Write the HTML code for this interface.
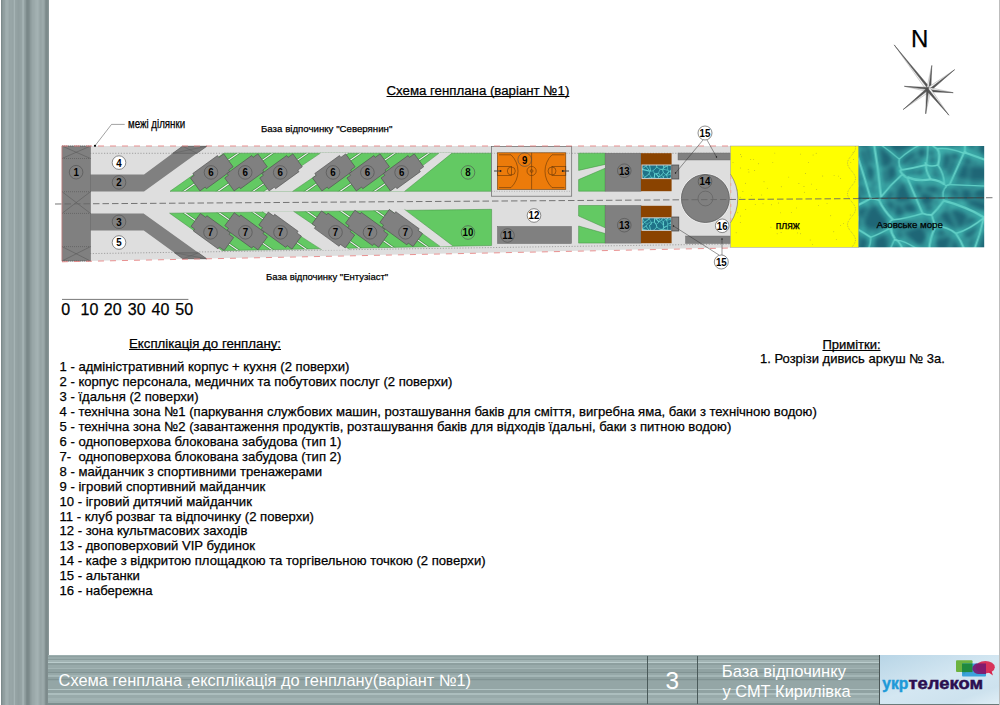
<!DOCTYPE html>
<html><head><meta charset="utf-8">
<style>
html,body{margin:0;padding:0;background:#fff;}
body{width:1000px;height:705px;position:relative;overflow:hidden;font-family:"Liberation Sans",sans-serif;color:#000;}
.abs{position:absolute;white-space:nowrap;line-height:1;}
#band{position:absolute;left:1px;top:0;width:48px;height:705px;background:linear-gradient(to right, rgb(124,138,139) 0px, rgb(124,138,139) 1px, rgb(136,150,151) 1px, rgb(136,150,151) 2px, rgb(144,158,159) 2px, rgb(144,158,159) 3px, rgb(146,160,161) 3px, rgb(146,160,161) 4px, rgb(156,170,171) 4px, rgb(156,170,171) 5px, rgb(160,174,175) 5px, rgb(160,174,175) 6px, rgb(160,174,175) 6px, rgb(160,174,175) 7px, rgb(156,170,171) 7px, rgb(156,170,171) 8px, rgb(150,164,165) 8px, rgb(150,164,165) 9px, rgb(152,166,167) 9px, rgb(152,166,167) 10px, rgb(152,166,167) 10px, rgb(152,166,167) 11px, rgb(150,164,165) 11px, rgb(150,164,165) 12px, rgb(154,168,169) 12px, rgb(154,168,169) 13px, rgb(166,180,181) 13px, rgb(166,180,181) 14px, rgb(150,164,165) 14px, rgb(150,164,165) 15px, rgb(148,162,163) 15px, rgb(148,162,163) 16px, rgb(146,160,161) 16px, rgb(146,160,161) 17px, rgb(144,158,159) 17px, rgb(144,158,159) 18px, rgb(146,160,161) 18px, rgb(146,160,161) 19px, rgb(148,162,163) 19px, rgb(148,162,163) 20px, rgb(150,164,165) 20px, rgb(150,164,165) 21px, rgb(162,176,177) 21px, rgb(162,176,177) 22px, rgb(164,178,179) 22px, rgb(164,178,179) 23px, rgb(148,162,163) 23px, rgb(148,162,163) 24px, rgb(140,154,155) 24px, rgb(140,154,155) 25px, rgb(126,140,141) 25px, rgb(126,140,141) 26px, rgb(122,136,137) 26px, rgb(122,136,137) 27px, rgb(124,138,139) 27px, rgb(124,138,139) 28px, rgb(130,144,145) 28px, rgb(130,144,145) 29px, rgb(140,154,155) 29px, rgb(140,154,155) 30px, rgb(146,160,161) 30px, rgb(146,160,161) 31px, rgb(152,166,167) 31px, rgb(152,166,167) 32px, rgb(154,168,169) 32px, rgb(154,168,169) 33px, rgb(156,170,171) 33px, rgb(156,170,171) 34px, rgb(160,174,175) 34px, rgb(160,174,175) 35px, rgb(162,176,177) 35px, rgb(162,176,177) 36px, rgb(164,178,179) 36px, rgb(164,178,179) 37px, rgb(160,174,175) 37px, rgb(160,174,175) 38px, rgb(154,168,169) 38px, rgb(154,168,169) 39px, rgb(150,164,165) 39px, rgb(150,164,165) 40px, rgb(152,166,167) 40px, rgb(152,166,167) 41px, rgb(156,170,171) 41px, rgb(156,170,171) 42px, rgb(154,168,169) 42px, rgb(154,168,169) 43px, rgb(146,160,161) 43px, rgb(146,160,161) 44px, rgb(130,144,145) 44px, rgb(130,144,145) 45px, rgb(124,138,139) 45px, rgb(124,138,139) 46px, rgb(126,140,141) 46px, rgb(126,140,141) 47px, rgb(136,150,151) 47px, rgb(136,150,151) 48px);}
#foot{position:absolute;left:48px;top:655px;width:832px;height:50px;background:linear-gradient(to bottom, rgb(157,175,175) 0px, rgb(157,175,175) 1px, rgb(142,160,160) 1px, rgb(142,160,160) 2px, rgb(153,171,171) 2px, rgb(153,171,171) 3px, rgb(153,171,171) 3px, rgb(153,171,171) 4px, rgb(138,156,156) 4px, rgb(138,156,156) 5px, rgb(162,180,180) 5px, rgb(162,180,180) 6px, rgb(162,180,180) 6px, rgb(162,180,180) 7px, rgb(186,204,204) 7px, rgb(186,204,204) 8px, rgb(141,159,159) 8px, rgb(141,159,159) 9px, rgb(141,159,159) 9px, rgb(141,159,159) 10px, rgb(152,170,170) 10px, rgb(152,170,170) 11px, rgb(152,170,170) 11px, rgb(152,170,170) 12px, rgb(152,170,170) 12px, rgb(152,170,170) 13px, rgb(163,181,181) 13px, rgb(163,181,181) 14px, rgb(144,162,162) 14px, rgb(144,162,162) 15px, rgb(144,162,162) 15px, rgb(144,162,162) 16px, rgb(144,162,162) 16px, rgb(144,162,162) 17px, rgb(129,147,147) 17px, rgb(129,147,147) 18px, rgb(150,168,168) 18px, rgb(150,168,168) 19px, rgb(150,168,168) 19px, rgb(150,168,168) 20px, rgb(164,182,182) 20px, rgb(164,182,182) 21px, rgb(164,182,182) 21px, rgb(164,182,182) 22px, rgb(143,161,161) 22px, rgb(143,161,161) 23px, rgb(143,161,161) 23px, rgb(143,161,161) 24px, rgb(129,147,147) 24px, rgb(129,147,147) 25px, rgb(143,161,161) 25px, rgb(143,161,161) 26px, rgb(148,166,166) 26px, rgb(148,166,166) 27px, rgb(148,166,166) 27px, rgb(148,166,166) 28px, rgb(148,166,166) 28px, rgb(148,166,166) 29px, rgb(148,166,166) 29px, rgb(148,166,166) 30px, rgb(148,166,166) 30px, rgb(148,166,166) 31px, rgb(148,166,166) 31px, rgb(148,166,166) 32px, rgb(148,166,166) 32px, rgb(148,166,166) 33px, rgb(148,166,166) 33px, rgb(148,166,166) 34px, rgb(178,196,196) 34px, rgb(178,196,196) 35px, rgb(144,162,162) 35px, rgb(144,162,162) 36px, rgb(144,162,162) 36px, rgb(144,162,162) 37px, rgb(144,162,162) 37px, rgb(144,162,162) 38px, rgb(172,190,190) 38px, rgb(172,190,190) 39px, rgb(172,190,190) 39px, rgb(172,190,190) 40px, rgb(152,170,170) 40px, rgb(152,170,170) 41px, rgb(152,170,170) 41px, rgb(152,170,170) 42px, rgb(152,170,170) 42px, rgb(152,170,170) 43px, rgb(160,178,178) 43px, rgb(160,178,178) 44px, rgb(160,178,178) 44px, rgb(160,178,178) 45px, rgb(160,178,178) 45px, rgb(160,178,178) 46px, rgb(155,173,173) 46px, rgb(155,173,173) 47px, rgb(155,173,173) 47px, rgb(155,173,173) 48px, rgb(125,143,143) 48px, rgb(125,143,143) 49px, rgb(125,143,143) 49px, rgb(125,143,143) 50px);}
#logo{position:absolute;left:879px;top:655px;width:120px;height:50px;background:linear-gradient(160deg,#b8d5e6 0%,#d4e7f2 50%,#cde2ee 80%,#e0eef6 100%);border-left:1px solid #4a5656;border-bottom:1px solid #6a7a7a;box-sizing:border-box;}
.ft{color:#fff;font-size:16px;-webkit-text-stroke:0 !important;}
svg{position:absolute;left:0;top:0;}
.u{text-decoration:underline;text-decoration-skip-ink:none;text-underline-offset:1.3px;text-decoration-thickness:1px;}
.li{font-size:13.1px;left:59.5px;}
.abs{-webkit-text-stroke:0.25px currentColor;}
</style></head><body>
<div id="band"></div>
<div style="position:absolute;left:999px;top:0;width:1px;height:705px;background:#bdbdbd"></div>
<svg width="1000" height="705" viewBox="0 0 1000 705">
<defs>
<filter id="blur1" x="-10%" y="-10%" width="120%" height="120%"><feGaussianBlur stdDeviation="2"/></filter><filter id="blur3" x="-10%" y="-10%" width="120%" height="120%"><feGaussianBlur stdDeviation="0.3"/></filter><filter id="blur2" x="-10%" y="-10%" width="120%" height="120%"><feGaussianBlur stdDeviation="0.45"/></filter>
<pattern id="sea" patternUnits="userSpaceOnUse" x="858.6" y="146" width="126" height="102">
<rect width="126" height="102" fill="#1f6676"/>
<g filter="url(#blur1)" stroke-opacity="0.7">
<path d="M-1.81 107.48 Q-20.41 88.03 -41.96 69.16" fill="none" stroke="#3ab2ae" stroke-width="5.83"/>
<path d="M-16.44 -33.19 Q-1.14 6.49 11.91 52.45" fill="none" stroke="#3ab2ae" stroke-width="8.65"/>
<path d="M14.65 -6.23 Q19.61 21.42 22.4 51.04" fill="none" stroke="#3ab2ae" stroke-width="9.29"/>
<path d="M11.91 52.45 Q13.64 52.29 20.26 53.88" fill="none" stroke="#3ab2ae" stroke-width="9.29"/>
<path d="M20.26 53.88 Q20.37 54.17 22.4 51.04" fill="none" stroke="#3ab2ae" stroke-width="8.18"/>
<path d="M-32.84 68.42 Q-6.94 64.37 11.91 52.45" fill="none" stroke="#3ab2ae" stroke-width="8.84"/>
<path d="M109.96 117.74 Q106.11 99.85 97.32 87.5" fill="none" stroke="#3ab2ae" stroke-width="8.78"/>
<path d="M109.96 117.74 Q120.34 94 125.17 71.84" fill="none" stroke="#3ab2ae" stroke-width="7.82"/>
<path d="M125.17 71.84 Q111.08 83.34 97.32 87.5" fill="none" stroke="#3ab2ae" stroke-width="6.4"/>
<path d="M207.84 43.18 Q165.93 53.29 125.58 71.38" fill="none" stroke="#3ab2ae" stroke-width="7.02"/>
<path d="M125.58 71.38 Q126.43 75.09 125.17 71.84" fill="none" stroke="#3ab2ae" stroke-width="10.04"/>
<path d="M123.06 248.56 Q95.53 179.98 70.77 103.57" fill="none" stroke="#3ab2ae" stroke-width="5.63"/>
<path d="M97.32 87.5 Q89.72 80.94 76.96 79.85" fill="none" stroke="#3ab2ae" stroke-width="6.93"/>
<path d="M76.96 79.85 Q70.45 94.58 70.77 103.57" fill="none" stroke="#3ab2ae" stroke-width="9.47"/>
<path d="M46.85 114.69 Q49.5 108.76 57.91 102.39" fill="none" stroke="#3ab2ae" stroke-width="6.05"/>
<path d="M70.77 103.57 Q64.27 103.41 57.91 102.39" fill="none" stroke="#3ab2ae" stroke-width="5.14"/>
<path d="M46.85 114.69 Q45.79 102.76 38.9 94.37" fill="none" stroke="#3ab2ae" stroke-width="7.18"/>
<path d="M57.91 102.39 Q44.87 94.4 38.9 94.37" fill="none" stroke="#3ab2ae" stroke-width="5.67"/>
<path d="M48.34 31.17 Q58.92 35.71 72.03 33.39" fill="none" stroke="#3ab2ae" stroke-width="9.84"/>
<path d="M48.34 31.17 Q55.97 48.92 63.9 67.38" fill="none" stroke="#3ab2ae" stroke-width="8.5"/>
<path d="M72.03 33.39 Q81.75 34.65 85.72 38.51" fill="none" stroke="#3ab2ae" stroke-width="9.26"/>
<path d="M63.9 67.38 Q67.67 68.95 73.06 69.02" fill="none" stroke="#3ab2ae" stroke-width="8.92"/>
<path d="M73.06 69.02 Q79.12 63.38 85.16 54.69" fill="none" stroke="#3ab2ae" stroke-width="8.68"/>
<path d="M85.16 54.69 Q82.64 43.91 88.02 40.51" fill="none" stroke="#3ab2ae" stroke-width="5.39"/>
<path d="M88.02 40.51 Q84.58 37.13 85.72 38.51" fill="none" stroke="#3ab2ae" stroke-width="4.79"/>
<path d="M20.26 53.88 Q25.1 64.63 34.47 73.77" fill="none" stroke="#3ab2ae" stroke-width="9.82"/>
<path d="M22.4 51.04 Q31.94 38.47 43.88 28.05" fill="none" stroke="#3ab2ae" stroke-width="7"/>
<path d="M43.88 28.05 Q47.56 31.89 48.34 31.17" fill="none" stroke="#3ab2ae" stroke-width="10.15"/>
<path d="M34.47 73.77 Q48.19 72.23 63.9 67.38" fill="none" stroke="#3ab2ae" stroke-width="6.55"/>
<path d="M125.58 71.38 Q107.97 60.88 85.16 54.69" fill="none" stroke="#3ab2ae" stroke-width="9.73"/>
<path d="M76.96 79.85 Q75.05 76.24 73.06 69.02" fill="none" stroke="#3ab2ae" stroke-width="7.71"/>
<path d="M207.84 43.18 Q147.95 40.84 91 38.6" fill="none" stroke="#3ab2ae" stroke-width="4.8"/>
<path d="M91 38.6 Q85.85 39.79 88.02 40.51" fill="none" stroke="#3ab2ae" stroke-width="7.36"/>
<path d="M107.61 -6.83 Q109.64 -8.63 106.34 -2.74" fill="none" stroke="#3ab2ae" stroke-width="7.84"/>
<path d="M210.82 42.58 Q158.44 25.36 106.2 6.58" fill="none" stroke="#3ab2ae" stroke-width="8.88"/>
<path d="M106.2 6.58 Q106.47 2.43 106.34 -2.74" fill="none" stroke="#3ab2ae" stroke-width="7.45"/>
<path d="M91 38.6 Q99 20.89 105.15 7.22" fill="none" stroke="#3ab2ae" stroke-width="7.82"/>
<path d="M106.2 6.58 Q107.05 4.43 105.15 7.22" fill="none" stroke="#3ab2ae" stroke-width="10.44"/>
<path d="M106.34 -2.74 Q90.37 -10.06 70.46 -24.66" fill="none" stroke="#3ab2ae" stroke-width="6.26"/>
<path d="M14.65 -6.23 Q27.19 1.53 40.63 13.11" fill="none" stroke="#3ab2ae" stroke-width="4.78"/>
<path d="M43.88 28.05 Q39.81 23.98 43.46 23.97" fill="none" stroke="#3ab2ae" stroke-width="9.67"/>
<path d="M40.63 13.11 Q39.35 20.06 43.46 23.97" fill="none" stroke="#3ab2ae" stroke-width="6"/>
<path d="M72.03 33.39 Q66.36 23.65 67.64 18.82" fill="none" stroke="#3ab2ae" stroke-width="8.57"/>
<path d="M43.46 23.97 Q55.57 21.79 67.64 18.82" fill="none" stroke="#3ab2ae" stroke-width="7.22"/>
<path d="M32.18 81.83 Q32.37 87.15 36.18 92.66" fill="none" stroke="#3ab2ae" stroke-width="10.03"/>
<path d="M32.18 81.83 Q19.71 88.43 12.01 91.3" fill="none" stroke="#3ab2ae" stroke-width="6.01"/>
<path d="M36.18 92.66 Q25.99 114.37 20.71 138.89" fill="none" stroke="#3ab2ae" stroke-width="5.06"/>
<path d="M12.01 91.3 Q12.7 99.48 6.42 109.81" fill="none" stroke="#3ab2ae" stroke-width="5.56"/>
<path d="M34.47 73.77 Q29.32 74.28 32.18 81.83" fill="none" stroke="#3ab2ae" stroke-width="5.79"/>
<path d="M38.9 94.37 Q36.88 94.33 36.18 92.66" fill="none" stroke="#3ab2ae" stroke-width="10.39"/>
<path d="M-32.84 68.42 Q-7.29 77.8 12.01 91.3" fill="none" stroke="#3ab2ae" stroke-width="8.17"/>
<path d="M79.39 18.93 Q82.37 7.69 78.6 2.82" fill="none" stroke="#3ab2ae" stroke-width="9.62"/>
<path d="M79.39 18.93 Q72.73 21.06 67.73 18.68" fill="none" stroke="#3ab2ae" stroke-width="6.44"/>
<path d="M67.73 18.68 Q69.5 7.27 69.26 -4.24" fill="none" stroke="#3ab2ae" stroke-width="5.13"/>
<path d="M78.6 2.82 Q76.11 1.78 69.47 -4.43" fill="none" stroke="#3ab2ae" stroke-width="7.4"/>
<path d="M69.47 -4.43 Q68.47 -0.76 69.26 -4.24" fill="none" stroke="#3ab2ae" stroke-width="6.75"/>
<path d="M85.72 38.51 Q85.59 28.07 79.39 18.93" fill="none" stroke="#3ab2ae" stroke-width="6.74"/>
<path d="M105.15 7.22 Q90.76 1.5 78.6 2.82" fill="none" stroke="#3ab2ae" stroke-width="6.16"/>
<path d="M67.64 18.82 Q65.52 15.25 67.73 18.68" fill="none" stroke="#3ab2ae" stroke-width="7.75"/>
<path d="M40.63 13.11 Q54.48 0.63 69.26 -4.24" fill="none" stroke="#3ab2ae" stroke-width="5.44"/>
<path d="M70.46 -24.66 Q73.31 -17.47 69.47 -4.43" fill="none" stroke="#3ab2ae" stroke-width="6.74"/>
</g>
<g filter="url(#blur2)" stroke-opacity="0.9">
<path d="M-1.81 107.48 Q-20.41 88.03 -41.96 69.16" fill="none" stroke="#6ad6cc" stroke-width="1.4"/>
<path d="M-16.44 -33.19 Q-1.14 6.49 11.91 52.45" fill="none" stroke="#6ad6cc" stroke-width="2.08"/>
<path d="M14.65 -6.23 Q19.61 21.42 22.4 51.04" fill="none" stroke="#6ad6cc" stroke-width="2.23"/>
<path d="M11.91 52.45 Q13.64 52.29 20.26 53.88" fill="none" stroke="#6ad6cc" stroke-width="2.23"/>
<path d="M20.26 53.88 Q20.37 54.17 22.4 51.04" fill="none" stroke="#6ad6cc" stroke-width="1.96"/>
<path d="M-32.84 68.42 Q-6.94 64.37 11.91 52.45" fill="none" stroke="#6ad6cc" stroke-width="2.12"/>
<path d="M109.96 117.74 Q106.11 99.85 97.32 87.5" fill="none" stroke="#6ad6cc" stroke-width="2.11"/>
<path d="M109.96 117.74 Q120.34 94 125.17 71.84" fill="none" stroke="#6ad6cc" stroke-width="1.88"/>
<path d="M125.17 71.84 Q111.08 83.34 97.32 87.5" fill="none" stroke="#6ad6cc" stroke-width="1.54"/>
<path d="M207.84 43.18 Q165.93 53.29 125.58 71.38" fill="none" stroke="#6ad6cc" stroke-width="1.69"/>
<path d="M125.58 71.38 Q126.43 75.09 125.17 71.84" fill="none" stroke="#6ad6cc" stroke-width="2.41"/>
<path d="M123.06 248.56 Q95.53 179.98 70.77 103.57" fill="none" stroke="#6ad6cc" stroke-width="1.35"/>
<path d="M97.32 87.5 Q89.72 80.94 76.96 79.85" fill="none" stroke="#6ad6cc" stroke-width="1.66"/>
<path d="M76.96 79.85 Q70.45 94.58 70.77 103.57" fill="none" stroke="#6ad6cc" stroke-width="2.27"/>
<path d="M46.85 114.69 Q49.5 108.76 57.91 102.39" fill="none" stroke="#6ad6cc" stroke-width="1.45"/>
<path d="M70.77 103.57 Q64.27 103.41 57.91 102.39" fill="none" stroke="#6ad6cc" stroke-width="1.23"/>
<path d="M46.85 114.69 Q45.79 102.76 38.9 94.37" fill="none" stroke="#6ad6cc" stroke-width="1.72"/>
<path d="M57.91 102.39 Q44.87 94.4 38.9 94.37" fill="none" stroke="#6ad6cc" stroke-width="1.36"/>
<path d="M48.34 31.17 Q58.92 35.71 72.03 33.39" fill="none" stroke="#6ad6cc" stroke-width="2.36"/>
<path d="M48.34 31.17 Q55.97 48.92 63.9 67.38" fill="none" stroke="#6ad6cc" stroke-width="2.04"/>
<path d="M72.03 33.39 Q81.75 34.65 85.72 38.51" fill="none" stroke="#6ad6cc" stroke-width="2.22"/>
<path d="M63.9 67.38 Q67.67 68.95 73.06 69.02" fill="none" stroke="#6ad6cc" stroke-width="2.14"/>
<path d="M73.06 69.02 Q79.12 63.38 85.16 54.69" fill="none" stroke="#6ad6cc" stroke-width="2.08"/>
<path d="M85.16 54.69 Q82.64 43.91 88.02 40.51" fill="none" stroke="#6ad6cc" stroke-width="1.29"/>
<path d="M88.02 40.51 Q84.58 37.13 85.72 38.51" fill="none" stroke="#6ad6cc" stroke-width="1.15"/>
<path d="M20.26 53.88 Q25.1 64.63 34.47 73.77" fill="none" stroke="#6ad6cc" stroke-width="2.36"/>
<path d="M22.4 51.04 Q31.94 38.47 43.88 28.05" fill="none" stroke="#6ad6cc" stroke-width="1.68"/>
<path d="M43.88 28.05 Q47.56 31.89 48.34 31.17" fill="none" stroke="#6ad6cc" stroke-width="2.43"/>
<path d="M34.47 73.77 Q48.19 72.23 63.9 67.38" fill="none" stroke="#6ad6cc" stroke-width="1.57"/>
<path d="M125.58 71.38 Q107.97 60.88 85.16 54.69" fill="none" stroke="#6ad6cc" stroke-width="2.33"/>
<path d="M76.96 79.85 Q75.05 76.24 73.06 69.02" fill="none" stroke="#6ad6cc" stroke-width="1.85"/>
<path d="M207.84 43.18 Q147.95 40.84 91 38.6" fill="none" stroke="#6ad6cc" stroke-width="1.15"/>
<path d="M91 38.6 Q85.85 39.79 88.02 40.51" fill="none" stroke="#6ad6cc" stroke-width="1.77"/>
<path d="M107.61 -6.83 Q109.64 -8.63 106.34 -2.74" fill="none" stroke="#6ad6cc" stroke-width="1.88"/>
<path d="M210.82 42.58 Q158.44 25.36 106.2 6.58" fill="none" stroke="#6ad6cc" stroke-width="2.13"/>
<path d="M106.2 6.58 Q106.47 2.43 106.34 -2.74" fill="none" stroke="#6ad6cc" stroke-width="1.79"/>
<path d="M91 38.6 Q99 20.89 105.15 7.22" fill="none" stroke="#6ad6cc" stroke-width="1.88"/>
<path d="M106.2 6.58 Q107.05 4.43 105.15 7.22" fill="none" stroke="#6ad6cc" stroke-width="2.51"/>
<path d="M106.34 -2.74 Q90.37 -10.06 70.46 -24.66" fill="none" stroke="#6ad6cc" stroke-width="1.5"/>
<path d="M14.65 -6.23 Q27.19 1.53 40.63 13.11" fill="none" stroke="#6ad6cc" stroke-width="1.15"/>
<path d="M43.88 28.05 Q39.81 23.98 43.46 23.97" fill="none" stroke="#6ad6cc" stroke-width="2.32"/>
<path d="M40.63 13.11 Q39.35 20.06 43.46 23.97" fill="none" stroke="#6ad6cc" stroke-width="1.44"/>
<path d="M72.03 33.39 Q66.36 23.65 67.64 18.82" fill="none" stroke="#6ad6cc" stroke-width="2.06"/>
<path d="M43.46 23.97 Q55.57 21.79 67.64 18.82" fill="none" stroke="#6ad6cc" stroke-width="1.73"/>
<path d="M32.18 81.83 Q32.37 87.15 36.18 92.66" fill="none" stroke="#6ad6cc" stroke-width="2.41"/>
<path d="M32.18 81.83 Q19.71 88.43 12.01 91.3" fill="none" stroke="#6ad6cc" stroke-width="1.44"/>
<path d="M36.18 92.66 Q25.99 114.37 20.71 138.89" fill="none" stroke="#6ad6cc" stroke-width="1.21"/>
<path d="M12.01 91.3 Q12.7 99.48 6.42 109.81" fill="none" stroke="#6ad6cc" stroke-width="1.33"/>
<path d="M34.47 73.77 Q29.32 74.28 32.18 81.83" fill="none" stroke="#6ad6cc" stroke-width="1.39"/>
<path d="M38.9 94.37 Q36.88 94.33 36.18 92.66" fill="none" stroke="#6ad6cc" stroke-width="2.49"/>
<path d="M-32.84 68.42 Q-7.29 77.8 12.01 91.3" fill="none" stroke="#6ad6cc" stroke-width="1.96"/>
<path d="M79.39 18.93 Q82.37 7.69 78.6 2.82" fill="none" stroke="#6ad6cc" stroke-width="2.31"/>
<path d="M79.39 18.93 Q72.73 21.06 67.73 18.68" fill="none" stroke="#6ad6cc" stroke-width="1.54"/>
<path d="M67.73 18.68 Q69.5 7.27 69.26 -4.24" fill="none" stroke="#6ad6cc" stroke-width="1.23"/>
<path d="M78.6 2.82 Q76.11 1.78 69.47 -4.43" fill="none" stroke="#6ad6cc" stroke-width="1.78"/>
<path d="M69.47 -4.43 Q68.47 -0.76 69.26 -4.24" fill="none" stroke="#6ad6cc" stroke-width="1.62"/>
<path d="M85.72 38.51 Q85.59 28.07 79.39 18.93" fill="none" stroke="#6ad6cc" stroke-width="1.62"/>
<path d="M105.15 7.22 Q90.76 1.5 78.6 2.82" fill="none" stroke="#6ad6cc" stroke-width="1.48"/>
<path d="M67.64 18.82 Q65.52 15.25 67.73 18.68" fill="none" stroke="#6ad6cc" stroke-width="1.86"/>
<path d="M40.63 13.11 Q54.48 0.63 69.26 -4.24" fill="none" stroke="#6ad6cc" stroke-width="1.3"/>
<path d="M70.46 -24.66 Q73.31 -17.47 69.47 -4.43" fill="none" stroke="#6ad6cc" stroke-width="1.62"/>
</g>
<g filter="url(#blur1)" stroke-opacity="0.5">
<path d="M91.21 293.23 Q100.89 191.91 109.48 94.57" fill="none" stroke="#4cc2ba" stroke-width="3.34"/>
<path d="M-24.41 16.13 Q-14.52 13.67 -4.58 8.88" fill="none" stroke="#4cc2ba" stroke-width="2.66"/>
<path d="M-7.98 20.74 Q-5.51 14.27 -4.58 8.88" fill="none" stroke="#4cc2ba" stroke-width="3.2"/>
<path d="M10.16 60.93 Q6.55 68.18 3.32 77.75" fill="none" stroke="#4cc2ba" stroke-width="2.57"/>
<path d="M10.16 60.93 Q2.04 50 -2.6 38.08" fill="none" stroke="#4cc2ba" stroke-width="3.94"/>
<path d="M3.32 77.75 Q-5.74 58.82 -15.56 42.53" fill="none" stroke="#4cc2ba" stroke-width="3.09"/>
<path d="M-2.6 38.08 Q-10.04 39.84 -15.56 42.53" fill="none" stroke="#4cc2ba" stroke-width="1.81"/>
<path d="M109.48 94.57 Q111.25 94.53 109.34 94.3" fill="none" stroke="#4cc2ba" stroke-width="3.17"/>
<path d="M159.72 62.16 Q132.91 76.76 109.34 94.3" fill="none" stroke="#4cc2ba" stroke-width="3.92"/>
<path d="M18.97 127.28 Q27.92 117.72 34.09 106.78" fill="none" stroke="#4cc2ba" stroke-width="3.47"/>
<path d="M14.27 117.44 Q15.51 101.6 13.3 84.35" fill="none" stroke="#4cc2ba" stroke-width="3.24"/>
<path d="M13.3 84.35 Q18.66 83.39 26.83 84.61" fill="none" stroke="#4cc2ba" stroke-width="2.33"/>
<path d="M34.09 106.78 Q28.64 95.35 26.83 84.61" fill="none" stroke="#4cc2ba" stroke-width="1.91"/>
<path d="M34.09 106.78 Q39.79 107.62 42.23 107.49" fill="none" stroke="#4cc2ba" stroke-width="2.6"/>
<path d="M55.73 112.92 Q56.31 108.72 58.78 102.63" fill="none" stroke="#4cc2ba" stroke-width="3.96"/>
<path d="M42.23 107.49 Q45.56 96.53 44.92 88.9" fill="none" stroke="#4cc2ba" stroke-width="2.87"/>
<path d="M58.78 102.63 Q53.74 96.11 44.92 88.9" fill="none" stroke="#4cc2ba" stroke-width="3.72"/>
<path d="M3.24 78.28 Q3.9 80.8 5.48 80.32" fill="none" stroke="#4cc2ba" stroke-width="4.12"/>
<path d="M5.48 80.32 Q-0.19 93.67 -4 108.35" fill="none" stroke="#4cc2ba" stroke-width="2.8"/>
<path d="M3.32 77.75 Q5.13 76.29 3.24 78.28" fill="none" stroke="#4cc2ba" stroke-width="3.26"/>
<path d="M13.3 84.35 Q9.69 83.4 5.48 80.32" fill="none" stroke="#4cc2ba" stroke-width="1.99"/>
<path d="M1.76 0.64 Q-2.78 5.92 -4.58 8.88" fill="none" stroke="#4cc2ba" stroke-width="4.07"/>
<path d="M109.34 94.3 Q105.34 91.31 101.02 88.2" fill="none" stroke="#4cc2ba" stroke-width="3.5"/>
<path d="M101.27 86.79 Q99.94 88.8 101.02 88.2" fill="none" stroke="#4cc2ba" stroke-width="1.86"/>
<path d="M101.27 86.79 Q105.97 80.27 109.65 71.02" fill="none" stroke="#4cc2ba" stroke-width="2.11"/>
<path d="M147.48 61.93 Q128.01 65.57 109.65 71.02" fill="none" stroke="#4cc2ba" stroke-width="3.66"/>
<path d="M26.83 84.61 Q26.72 83.64 29.18 83.48" fill="none" stroke="#4cc2ba" stroke-width="3.2"/>
<path d="M44.92 88.9 Q42.09 86.78 42.94 85.65" fill="none" stroke="#4cc2ba" stroke-width="2.22"/>
<path d="M29.18 83.48 Q33.31 82.59 39.29 84.34" fill="none" stroke="#4cc2ba" stroke-width="2.74"/>
<path d="M42.94 85.65 Q39.28 83.98 39.29 84.34" fill="none" stroke="#4cc2ba" stroke-width="2.32"/>
<path d="M29.18 83.48 Q33.95 70.77 37.29 56.56" fill="none" stroke="#4cc2ba" stroke-width="2.78"/>
<path d="M47.68 68.25 Q45.54 70.36 46.54 72.25" fill="none" stroke="#4cc2ba" stroke-width="3.05"/>
<path d="M47.68 68.25 Q44.78 62.41 41.74 57.52" fill="none" stroke="#4cc2ba" stroke-width="2.45"/>
<path d="M39.29 84.34 Q40.99 76.81 46.54 72.25" fill="none" stroke="#4cc2ba" stroke-width="2.14"/>
<path d="M37.29 56.56 Q38.75 56.13 41.74 57.52" fill="none" stroke="#4cc2ba" stroke-width="2.83"/>
<path d="M10.16 60.93 Q16.05 59.33 19.02 54.37" fill="none" stroke="#4cc2ba" stroke-width="2.74"/>
<path d="M19.02 54.37 Q27.15 55.56 34.76 53.25" fill="none" stroke="#4cc2ba" stroke-width="3.42"/>
<path d="M37.29 56.56 Q34.22 54.6 34.76 53.25" fill="none" stroke="#4cc2ba" stroke-width="3.65"/>
<path d="M62.6 60.58 Q60.24 59.75 58.71 55.42" fill="none" stroke="#4cc2ba" stroke-width="2.33"/>
<path d="M62.6 60.58 Q63.78 66.83 62.74 71.73" fill="none" stroke="#4cc2ba" stroke-width="3.4"/>
<path d="M58.71 55.42 Q56.76 54.47 56.19 55.05" fill="none" stroke="#4cc2ba" stroke-width="2.83"/>
<path d="M47.68 68.25 Q55.97 69.47 62.74 71.73" fill="none" stroke="#4cc2ba" stroke-width="4.1"/>
<path d="M56.19 55.05 Q49.34 56.04 41.74 57.52" fill="none" stroke="#4cc2ba" stroke-width="3.32"/>
<path d="M101.02 88.2 Q96.28 89.78 94.5 89.74" fill="none" stroke="#4cc2ba" stroke-width="2.16"/>
<path d="M82.51 129.39 Q89.78 107.78 94.5 89.74" fill="none" stroke="#4cc2ba" stroke-width="3.41"/>
<path d="M106.19 -5.4 Q101.48 -2.21 94.72 3.37" fill="none" stroke="#4cc2ba" stroke-width="2.09"/>
<path d="M106.19 -5.4 Q113.46 -4.79 118.66 -2.49" fill="none" stroke="#4cc2ba" stroke-width="3.01"/>
<path d="M94.72 3.37 Q103.81 2.64 114.24 4.61" fill="none" stroke="#4cc2ba" stroke-width="4.08"/>
<path d="M114.24 4.61 Q115.45 1.78 118.16 -0.86" fill="none" stroke="#4cc2ba" stroke-width="2.68"/>
<path d="M118.66 -2.49 Q119.69 -0.43 118.16 -0.86" fill="none" stroke="#4cc2ba" stroke-width="3.88"/>
<path d="M93.02 13.42 Q101.04 16.8 110.75 19.17" fill="none" stroke="#4cc2ba" stroke-width="1.83"/>
<path d="M93.02 13.42 Q91.11 9.62 90.98 5.66" fill="none" stroke="#4cc2ba" stroke-width="2.6"/>
<path d="M90.98 5.66 Q94.8 5.15 94.72 3.37" fill="none" stroke="#4cc2ba" stroke-width="4.01"/>
<path d="M114.15 18.53 Q111.33 19.39 110.75 19.17" fill="none" stroke="#4cc2ba" stroke-width="2.71"/>
<path d="M114.15 18.53 Q114.88 12.55 114.24 4.61" fill="none" stroke="#4cc2ba" stroke-width="3.53"/>
<path d="M114.15 18.53 Q116.63 20.12 120.9 18.69" fill="none" stroke="#4cc2ba" stroke-width="2.71"/>
<path d="M120.9 18.69 Q119.86 10.69 118.16 -0.86" fill="none" stroke="#4cc2ba" stroke-width="3.69"/>
<path d="M120.9 18.69 Q141.08 24.21 163.86 27.36" fill="none" stroke="#4cc2ba" stroke-width="2.54"/>
<path d="M90.98 5.66 Q90 4.92 90.47 5.19" fill="none" stroke="#4cc2ba" stroke-width="2.81"/>
<path d="M90.47 5.19 Q91.2 4.28 88.82 2.56" fill="none" stroke="#4cc2ba" stroke-width="2.58"/>
<path d="M82.55 -16.16 Q84.72 -5.22 88.82 2.56" fill="none" stroke="#4cc2ba" stroke-width="1.89"/>
<path d="M1.76 0.64 Q2.4 3.33 6.07 2.53" fill="none" stroke="#4cc2ba" stroke-width="3.48"/>
<path d="M-7.82 21.06 Q-3.47 25.88 -0.65 30.15" fill="none" stroke="#4cc2ba" stroke-width="2"/>
<path d="M6.07 2.53 Q7.74 9.65 10.49 17.91" fill="none" stroke="#4cc2ba" stroke-width="2.78"/>
<path d="M10.49 17.91 Q4.66 24.87 -0.65 30.15" fill="none" stroke="#4cc2ba" stroke-width="1.8"/>
<path d="M-2.6 38.08 Q-1.9 38.59 -1.91 37.29" fill="none" stroke="#4cc2ba" stroke-width="3.57"/>
<path d="M19.02 54.37 Q16.01 46.84 16.42 42.35" fill="none" stroke="#4cc2ba" stroke-width="2.1"/>
<path d="M16.42 42.35 Q13.13 39.38 10.97 38.11" fill="none" stroke="#4cc2ba" stroke-width="2.55"/>
<path d="M10.97 38.11 Q3.63 36.64 -1.91 37.29" fill="none" stroke="#4cc2ba" stroke-width="3.2"/>
<path d="M-1.91 37.29 Q-1.91 33.29 -0.65 30.15" fill="none" stroke="#4cc2ba" stroke-width="2.71"/>
<path d="M89.87 88.99 Q82.84 90.76 73.64 92" fill="none" stroke="#4cc2ba" stroke-width="3.32"/>
<path d="M89.87 88.99 Q85.51 78.46 80.17 69.81" fill="none" stroke="#4cc2ba" stroke-width="3.18"/>
<path d="M80.17 69.81 Q73.22 72.21 63.81 75.34" fill="none" stroke="#4cc2ba" stroke-width="2.61"/>
<path d="M71.04 91.44 Q67 83.79 63.38 78.01" fill="none" stroke="#4cc2ba" stroke-width="3.63"/>
<path d="M71.04 91.44 Q73.08 93.45 73.64 92" fill="none" stroke="#4cc2ba" stroke-width="2.48"/>
<path d="M63.81 75.34 Q64.11 76.54 63.45 77.31" fill="none" stroke="#4cc2ba" stroke-width="1.9"/>
<path d="M63.38 78.01 Q61.65 78.56 63.45 77.31" fill="none" stroke="#4cc2ba" stroke-width="2.14"/>
<path d="M82.51 129.39 Q78.62 110.76 73.64 92" fill="none" stroke="#4cc2ba" stroke-width="3.58"/>
<path d="M94.5 89.74 Q90.66 89.84 89.87 88.99" fill="none" stroke="#4cc2ba" stroke-width="3.12"/>
<path d="M62.6 60.58 Q66.62 61.2 73.97 58.08" fill="none" stroke="#4cc2ba" stroke-width="2.11"/>
<path d="M62.74 71.73 Q65.15 71.54 63.81 75.34" fill="none" stroke="#4cc2ba" stroke-width="2.24"/>
<path d="M81.92 66.1 Q78.32 63.68 73.97 58.08" fill="none" stroke="#4cc2ba" stroke-width="4.08"/>
<path d="M81.92 66.1 Q80.62 66.39 80.17 69.81" fill="none" stroke="#4cc2ba" stroke-width="3.4"/>
<path d="M58.78 102.63 Q66.53 98.93 71.04 91.44" fill="none" stroke="#4cc2ba" stroke-width="2.47"/>
<path d="M42.94 85.65 Q51.26 81.78 63.38 78.01" fill="none" stroke="#4cc2ba" stroke-width="4.03"/>
<path d="M46.54 72.25 Q55.47 74.82 63.45 77.31" fill="none" stroke="#4cc2ba" stroke-width="4.19"/>
<path d="M101.27 86.79 Q95.01 73.92 90.84 64.17" fill="none" stroke="#4cc2ba" stroke-width="2.94"/>
<path d="M81.92 66.1 Q85.37 64.26 85.61 64.46" fill="none" stroke="#4cc2ba" stroke-width="3.14"/>
<path d="M90.84 64.17 Q90.02 62.77 85.61 64.46" fill="none" stroke="#4cc2ba" stroke-width="4.08"/>
<path d="M147.48 61.93 Q129.49 55.32 114.44 52.17" fill="none" stroke="#4cc2ba" stroke-width="2.7"/>
<path d="M109.65 71.02 Q108.51 64.76 104.64 57.97" fill="none" stroke="#4cc2ba" stroke-width="1.89"/>
<path d="M114.44 52.17 Q109.85 53.67 104.64 57.97" fill="none" stroke="#4cc2ba" stroke-width="2.25"/>
<path d="M93.27 61.39 Q93.23 63.13 90.84 64.17" fill="none" stroke="#4cc2ba" stroke-width="3.59"/>
<path d="M93.27 61.39 Q96.89 58.45 104.13 57.75" fill="none" stroke="#4cc2ba" stroke-width="4.17"/>
<path d="M104.64 57.97 Q106.12 57.78 104.13 57.75" fill="none" stroke="#4cc2ba" stroke-width="3.9"/>
<path d="M93.02 13.42 Q90.75 21.41 87.3 25.98" fill="none" stroke="#4cc2ba" stroke-width="3.05"/>
<path d="M110.75 19.17 Q110.76 27.33 109.77 35.4" fill="none" stroke="#4cc2ba" stroke-width="1.95"/>
<path d="M87.3 25.98 Q87.84 28.67 87.87 31.33" fill="none" stroke="#4cc2ba" stroke-width="2.87"/>
<path d="M87.87 31.33 Q97.75 33.41 109.77 35.4" fill="none" stroke="#4cc2ba" stroke-width="3.87"/>
<path d="M76.97 50.25 Q70.27 45.76 64.19 44.8" fill="none" stroke="#4cc2ba" stroke-width="3.36"/>
<path d="M76.97 50.25 Q80.77 43.94 81.47 37.98" fill="none" stroke="#4cc2ba" stroke-width="2.74"/>
<path d="M81.47 37.98 Q73.06 37.92 64.46 40.2" fill="none" stroke="#4cc2ba" stroke-width="4.09"/>
<path d="M64.19 44.8 Q63.62 43.32 64.46 40.2" fill="none" stroke="#4cc2ba" stroke-width="2.98"/>
<path d="M87.3 25.98 Q81.79 27.07 73.41 24.98" fill="none" stroke="#4cc2ba" stroke-width="3.14"/>
<path d="M87.58 33.29 Q86.34 31.88 87.87 31.33" fill="none" stroke="#4cc2ba" stroke-width="2.32"/>
<path d="M87.58 33.29 Q84.26 34.7 81.47 37.98" fill="none" stroke="#4cc2ba" stroke-width="2.03"/>
<path d="M64.46 40.2 Q62.97 36.15 60.02 32.65" fill="none" stroke="#4cc2ba" stroke-width="3.52"/>
<path d="M73.41 24.98 Q64.93 29.97 60.02 32.65" fill="none" stroke="#4cc2ba" stroke-width="4.02"/>
<path d="M90.47 5.19 Q75.99 9.96 65.08 13.06" fill="none" stroke="#4cc2ba" stroke-width="3.86"/>
<path d="M73.41 24.98 Q67.68 17.04 65.08 13.06" fill="none" stroke="#4cc2ba" stroke-width="2.34"/>
<path d="M57.28 3.15 Q45.62 4.9 34.37 7.51" fill="none" stroke="#4cc2ba" stroke-width="1.91"/>
<path d="M57.28 3.15 Q59.59 2.64 58.05 0.46" fill="none" stroke="#4cc2ba" stroke-width="4.08"/>
<path d="M58.05 0.46 Q57.62 -0.52 57.8 -3" fill="none" stroke="#4cc2ba" stroke-width="2.78"/>
<path d="M57.8 -3 Q46.69 -16.98 38.61 -34.59" fill="none" stroke="#4cc2ba" stroke-width="4.17"/>
<path d="M27.67 -5.29 Q29.11 2.3 34.37 7.51" fill="none" stroke="#4cc2ba" stroke-width="2.96"/>
<path d="M82.55 -16.16 Q68.9 -7.83 57.8 -3" fill="none" stroke="#4cc2ba" stroke-width="2.51"/>
<path d="M88.82 2.56 Q72.74 3.41 58.05 0.46" fill="none" stroke="#4cc2ba" stroke-width="2.75"/>
<path d="M6.07 2.53 Q18.73 -3.38 27.67 -5.29" fill="none" stroke="#4cc2ba" stroke-width="2.12"/>
<path d="M23.71 37.82 Q22.21 32.73 20.15 27.07" fill="none" stroke="#4cc2ba" stroke-width="3.03"/>
<path d="M23.71 37.82 Q28.1 39.55 30.24 40.17" fill="none" stroke="#4cc2ba" stroke-width="2.96"/>
<path d="M30.24 40.17 Q27.45 29.02 26.87 21.45" fill="none" stroke="#4cc2ba" stroke-width="2.54"/>
<path d="M20.15 27.07 Q19.11 25.55 20.94 23" fill="none" stroke="#4cc2ba" stroke-width="3.68"/>
<path d="M20.94 23 Q25.05 23.47 26.87 21.45" fill="none" stroke="#4cc2ba" stroke-width="2.68"/>
<path d="M16.42 42.35 Q21.93 40.45 23.71 37.82" fill="none" stroke="#4cc2ba" stroke-width="3.75"/>
<path d="M10.97 38.11 Q17.47 33.48 20.15 27.07" fill="none" stroke="#4cc2ba" stroke-width="3.65"/>
<path d="M34.76 53.25 Q36.52 49.82 35.88 44.31" fill="none" stroke="#4cc2ba" stroke-width="4.03"/>
<path d="M35.88 44.31 Q32.27 42.52 30.24 40.17" fill="none" stroke="#4cc2ba" stroke-width="2.63"/>
<path d="M10.49 17.91 Q16.17 19.54 20.94 23" fill="none" stroke="#4cc2ba" stroke-width="3.87"/>
<path d="M34.15 17.97 Q30.35 21.67 26.87 21.45" fill="none" stroke="#4cc2ba" stroke-width="2.5"/>
<path d="M34.15 17.97 Q35.37 12.14 34.37 7.51" fill="none" stroke="#4cc2ba" stroke-width="3.28"/>
<path d="M88.94 50.65 Q88.81 49.18 88.94 50.87" fill="none" stroke="#4cc2ba" stroke-width="3.43"/>
<path d="M88.94 50.65 Q84.88 49.92 77.23 51.25" fill="none" stroke="#4cc2ba" stroke-width="2.07"/>
<path d="M88.94 50.87 Q84.74 54.48 83.99 56.5" fill="none" stroke="#4cc2ba" stroke-width="4.12"/>
<path d="M83.99 56.5 Q78.96 53.33 77 52.73" fill="none" stroke="#4cc2ba" stroke-width="3.7"/>
<path d="M77.23 51.25 Q76.69 53.64 77 52.73" fill="none" stroke="#4cc2ba" stroke-width="3.45"/>
<path d="M93.27 61.39 Q92.22 57.89 88.94 50.87" fill="none" stroke="#4cc2ba" stroke-width="2.76"/>
<path d="M85.61 64.46 Q83.25 59.08 83.99 56.5" fill="none" stroke="#4cc2ba" stroke-width="4.03"/>
<path d="M73.97 58.08 Q75.61 54.29 77 52.73" fill="none" stroke="#4cc2ba" stroke-width="4.19"/>
<path d="M58.71 55.42 Q60.1 48.55 64.19 44.8" fill="none" stroke="#4cc2ba" stroke-width="2.24"/>
<path d="M76.97 50.25 Q75.28 50.46 77.23 51.25" fill="none" stroke="#4cc2ba" stroke-width="2.65"/>
<path d="M90.05 48.28 Q98.1 50.95 103.41 56.23" fill="none" stroke="#4cc2ba" stroke-width="2.19"/>
<path d="M90.05 48.28 Q90.98 43.48 90.93 39.62" fill="none" stroke="#4cc2ba" stroke-width="3.78"/>
<path d="M90.93 39.62 Q94.39 40.36 101.11 44.65" fill="none" stroke="#4cc2ba" stroke-width="3.08"/>
<path d="M103.41 56.23 Q101.68 50.11 101.11 44.65" fill="none" stroke="#4cc2ba" stroke-width="2.71"/>
<path d="M104.13 57.75 Q104.99 56.16 103.41 56.23" fill="none" stroke="#4cc2ba" stroke-width="4.19"/>
<path d="M88.94 50.65 Q88.35 48.48 90.05 48.28" fill="none" stroke="#4cc2ba" stroke-width="2.57"/>
<path d="M87.58 33.29 Q87.91 34.68 90.93 39.62" fill="none" stroke="#4cc2ba" stroke-width="3.64"/>
<path d="M109.9 35.64 Q110.86 36.22 109.31 40.56" fill="none" stroke="#4cc2ba" stroke-width="2.33"/>
<path d="M109.9 35.64 Q121.67 34.49 131.93 34.79" fill="none" stroke="#4cc2ba" stroke-width="1.92"/>
<path d="M109.31 40.56 Q111.49 44.85 113.12 45.28" fill="none" stroke="#4cc2ba" stroke-width="2.21"/>
<path d="M131.93 34.79 Q123.28 40.57 113.12 45.28" fill="none" stroke="#4cc2ba" stroke-width="3.87"/>
<path d="M109.77 35.4 Q108.36 35.87 109.9 35.64" fill="none" stroke="#4cc2ba" stroke-width="2.28"/>
<path d="M101.11 44.65 Q105.67 41.29 109.31 40.56" fill="none" stroke="#4cc2ba" stroke-width="2.44"/>
<path d="M114.44 52.17 Q115.3 50.04 113.12 45.28" fill="none" stroke="#4cc2ba" stroke-width="2.25"/>
<path d="M57.12 31.29 Q59.38 22.02 61.13 11.89" fill="none" stroke="#4cc2ba" stroke-width="2.48"/>
<path d="M57.12 31.29 Q51.9 33.34 46.01 32.04" fill="none" stroke="#4cc2ba" stroke-width="3.88"/>
<path d="M40.62 23.14 Q42.46 26.57 45.81 32" fill="none" stroke="#4cc2ba" stroke-width="3.73"/>
<path d="M40.62 23.14 Q51.13 17.37 58.89 9.16" fill="none" stroke="#4cc2ba" stroke-width="3.03"/>
<path d="M58.89 9.16 Q59.49 11.14 61.13 11.89" fill="none" stroke="#4cc2ba" stroke-width="2.59"/>
<path d="M46.01 32.04 Q45.16 33.78 45.81 32" fill="none" stroke="#4cc2ba" stroke-width="4.17"/>
<path d="M65.08 13.06 Q61.82 13.91 61.13 11.89" fill="none" stroke="#4cc2ba" stroke-width="2.8"/>
<path d="M60.02 32.65 Q58.47 33.5 57.12 31.29" fill="none" stroke="#4cc2ba" stroke-width="2.62"/>
<path d="M56.19 55.05 Q50.93 44.09 46.01 32.04" fill="none" stroke="#4cc2ba" stroke-width="2.91"/>
<path d="M35.88 44.31 Q41.6 39.31 45.81 32" fill="none" stroke="#4cc2ba" stroke-width="3.07"/>
<path d="M34.15 17.97 Q38.05 19.84 40.62 23.14" fill="none" stroke="#4cc2ba" stroke-width="2.65"/>
<path d="M57.28 3.15 Q56.46 5.5 58.89 9.16" fill="none" stroke="#4cc2ba" stroke-width="3.35"/>
</g>
</pattern>
<pattern id="pool" patternUnits="userSpaceOnUse" x="642" y="165" width="30" height="15">
<rect width="30" height="15" fill="#1f7288"/>
<g filter="url(#blur3)">
<path d="M-0.26 7.46 Q0.96 9.63 2.47 12.38" fill="none" stroke="#62d2cf" stroke-width="0.69"/>
<path d="M-0.26 7.46 Q-2.09 10.63 -4.4 13.44" fill="none" stroke="#62d2cf" stroke-width="0.78"/>
<path d="M2.47 12.38 Q1.68 13.5 1.1 13.83" fill="none" stroke="#62d2cf" stroke-width="0.81"/>
<path d="M-4.4 13.44 Q-1.51 13.91 1.1 13.83" fill="none" stroke="#62d2cf" stroke-width="0.8"/>
<path d="M-6.52 13.75 Q-5.36 13.55 -4.4 13.44" fill="none" stroke="#62d2cf" stroke-width="1.02"/>
<path d="M-6.52 13.75 Q-4.33 9.45 -2.56 5.23" fill="none" stroke="#62d2cf" stroke-width="1.01"/>
<path d="M-2.56 5.23 Q-2.08 4.86 -1.19 4.73" fill="none" stroke="#62d2cf" stroke-width="0.91"/>
<path d="M-1.19 4.73 Q-1.02 6.44 -0.26 7.46" fill="none" stroke="#62d2cf" stroke-width="0.49"/>
<path d="M7.97 19.52 Q9.2 21.35 9.74 23.52" fill="none" stroke="#62d2cf" stroke-width="1.05"/>
<path d="M7.97 19.52 Q8 19.45 8.34 18.92" fill="none" stroke="#62d2cf" stroke-width="0.82"/>
<path d="M8.34 18.92 Q9.36 18.68 10.47 18.37" fill="none" stroke="#62d2cf" stroke-width="1.12"/>
<path d="M14.95 23.58 Q13.03 20.82 10.47 18.37" fill="none" stroke="#62d2cf" stroke-width="0.63"/>
<path d="M29.4 19.46 Q32.17 20.08 34.25 21.31" fill="none" stroke="#62d2cf" stroke-width="0.53"/>
<path d="M29.4 19.46 Q28.49 19.05 27.32 19.14" fill="none" stroke="#62d2cf" stroke-width="0.48"/>
<path d="M27.32 19.14 Q26.53 21.1 25.51 23.69" fill="none" stroke="#62d2cf" stroke-width="0.63"/>
<path d="M24.89 15.78 Q26.29 17.83 27.32 19.14" fill="none" stroke="#62d2cf" stroke-width="0.77"/>
<path d="M24.89 15.78 Q24.23 15.55 23.62 16.02" fill="none" stroke="#62d2cf" stroke-width="0.8"/>
<path d="M23.62 16.02 Q22.79 18.23 22.44 20.37" fill="none" stroke="#62d2cf" stroke-width="0.55"/>
<path d="M21.36 11.42 Q20.15 11.13 19.29 10.24" fill="none" stroke="#62d2cf" stroke-width="0.69"/>
<path d="M21.36 11.42 Q22.88 10.64 23.92 9.61" fill="none" stroke="#62d2cf" stroke-width="0.55"/>
<path d="M23.92 9.61 Q22.66 8.71 21.47 7.77" fill="none" stroke="#62d2cf" stroke-width="0.79"/>
<path d="M21.47 7.77 Q20.13 8.85 19.29 10.24" fill="none" stroke="#62d2cf" stroke-width="0.96"/>
<path d="M-2.56 5.23 Q-5.66 5.24 -8.91 5.39" fill="none" stroke="#62d2cf" stroke-width="0.77"/>
<path d="M-3.64 18.62 Q-1.61 17.7 0.49 16.79" fill="none" stroke="#62d2cf" stroke-width="0.84"/>
<path d="M-3.64 18.62 Q-4.62 17.61 -6.24 17.38" fill="none" stroke="#62d2cf" stroke-width="0.87"/>
<path d="M1.1 13.83 Q0.64 14.56 0.86 15.94" fill="none" stroke="#62d2cf" stroke-width="1.09"/>
<path d="M0.86 15.94 Q0.78 16.37 0.49 16.79" fill="none" stroke="#62d2cf" stroke-width="0.99"/>
<path d="M-3.64 18.62 Q-2.74 20.76 -1.87 22.3" fill="none" stroke="#62d2cf" stroke-width="1.05"/>
<path d="M12.62 8.66 Q12.06 7.01 10.73 6.07" fill="none" stroke="#62d2cf" stroke-width="0.73"/>
<path d="M12.62 8.66 Q12.96 8.82 13.78 8.67" fill="none" stroke="#62d2cf" stroke-width="0.88"/>
<path d="M10.73 6.07 Q12.69 3.82 14.88 2.15" fill="none" stroke="#62d2cf" stroke-width="0.81"/>
<path d="M13.78 8.67 Q14.83 8.64 16.5 8.2" fill="none" stroke="#62d2cf" stroke-width="0.79"/>
<path d="M16.5 8.2 Q17.02 6.45 18.2 4.28" fill="none" stroke="#62d2cf" stroke-width="0.64"/>
<path d="M14.88 2.15 Q16.54 3.39 18.2 4.28" fill="none" stroke="#62d2cf" stroke-width="0.72"/>
<path d="M21.47 7.77 Q20.81 6.17 20.63 4.46" fill="none" stroke="#62d2cf" stroke-width="0.95"/>
<path d="M16.5 8.2 Q17.63 9.33 18.17 10.95" fill="none" stroke="#62d2cf" stroke-width="0.75"/>
<path d="M18.17 10.95 Q18.9 10.28 19.29 10.24" fill="none" stroke="#62d2cf" stroke-width="0.5"/>
<path d="M18.2 4.28 Q19.73 4.26 20.63 4.46" fill="none" stroke="#62d2cf" stroke-width="1.02"/>
<path d="M25.61 0.66 Q23.92 1.8 21.72 2.63" fill="none" stroke="#62d2cf" stroke-width="1.11"/>
<path d="M25.61 0.66 Q25.44 2.95 25.73 5.3" fill="none" stroke="#62d2cf" stroke-width="0.62"/>
<path d="M25.73 5.3 Q23.08 4.58 20.94 4.22" fill="none" stroke="#62d2cf" stroke-width="0.7"/>
<path d="M21.72 2.63 Q21.07 3.45 20.94 4.22" fill="none" stroke="#62d2cf" stroke-width="1.05"/>
<path d="M26.56 -0.13 Q25 -3.34 23.43 -5.99" fill="none" stroke="#62d2cf" stroke-width="0.57"/>
<path d="M26.56 -0.13 Q26.29 0.13 25.61 0.66" fill="none" stroke="#62d2cf" stroke-width="0.53"/>
<path d="M21.72 2.63 Q21.22 -0.57 20.19 -4.5" fill="none" stroke="#62d2cf" stroke-width="0.86"/>
<path d="M23.43 -5.99 Q21.46 -5.45 20.19 -4.5" fill="none" stroke="#62d2cf" stroke-width="0.93"/>
<path d="M14.09 -3.11 Q15.84 -4.13 17.21 -4.48" fill="none" stroke="#62d2cf" stroke-width="1.1"/>
<path d="M14.09 -3.11 Q14.19 -0.08 14.88 2.15" fill="none" stroke="#62d2cf" stroke-width="0.88"/>
<path d="M20.94 4.22 Q20.76 4.59 20.63 4.46" fill="none" stroke="#62d2cf" stroke-width="1"/>
<path d="M20.19 -4.5 Q18.38 -4.74 17.21 -4.48" fill="none" stroke="#62d2cf" stroke-width="1.08"/>
<path d="M8.62 6.01 Q10.02 6.31 10.73 6.07" fill="none" stroke="#62d2cf" stroke-width="0.48"/>
<path d="M8.62 6.01 Q7.89 1.92 7.1 -1.82" fill="none" stroke="#62d2cf" stroke-width="0.84"/>
<path d="M14.09 -3.11 Q12.92 -3.27 12.37 -3.84" fill="none" stroke="#62d2cf" stroke-width="0.55"/>
<path d="M7.1 -1.82 Q7.78 -2.87 8.83 -3.49" fill="none" stroke="#62d2cf" stroke-width="1.05"/>
<path d="M12.37 -3.84 Q10.47 -3.86 8.83 -3.49" fill="none" stroke="#62d2cf" stroke-width="0.69"/>
<path d="M5.26 21.07 Q3.04 19.75 0.93 18.39" fill="none" stroke="#62d2cf" stroke-width="0.89"/>
<path d="M1.62 20.9 Q0.99 20.4 0.55 19.59" fill="none" stroke="#62d2cf" stroke-width="0.92"/>
<path d="M0.55 19.59 Q0.72 18.78 0.93 18.39" fill="none" stroke="#62d2cf" stroke-width="0.99"/>
<path d="M7.97 19.52 Q7.53 19.62 7.16 19.83" fill="none" stroke="#62d2cf" stroke-width="0.76"/>
<path d="M7.16 19.83 Q6.49 20.64 5.26 21.07" fill="none" stroke="#62d2cf" stroke-width="1.07"/>
<path d="M7.16 19.83 Q3.68 17.72 0.86 15.94" fill="none" stroke="#62d2cf" stroke-width="0.75"/>
<path d="M0.49 16.79 Q0.57 17.88 0.93 18.39" fill="none" stroke="#62d2cf" stroke-width="0.51"/>
<path d="M-1.87 22.3 Q-0.92 21.26 0.55 19.59" fill="none" stroke="#62d2cf" stroke-width="0.55"/>
<path d="M9.64 12.45 Q8.96 14.52 7.51 16.63" fill="none" stroke="#62d2cf" stroke-width="1.07"/>
<path d="M9.64 12.45 Q9.48 12.26 8.97 11.84" fill="none" stroke="#62d2cf" stroke-width="0.66"/>
<path d="M8.97 11.84 Q7.12 12.71 4.88 14" fill="none" stroke="#62d2cf" stroke-width="0.51"/>
<path d="M7.51 16.63 Q6.04 15.25 4.88 14" fill="none" stroke="#62d2cf" stroke-width="0.52"/>
<path d="M8.62 6.01 Q8.27 6.22 8.01 6.38" fill="none" stroke="#62d2cf" stroke-width="0.92"/>
<path d="M8.01 6.38 Q7.62 7.27 7.04 8.9" fill="none" stroke="#62d2cf" stroke-width="0.99"/>
<path d="M12.47 12.25 Q10.68 12.35 9.64 12.45" fill="none" stroke="#62d2cf" stroke-width="0.52"/>
<path d="M12.47 12.25 Q12.49 10.17 12.62 8.66" fill="none" stroke="#62d2cf" stroke-width="1.04"/>
<path d="M7.04 8.9 Q8.32 10.17 8.97 11.84" fill="none" stroke="#62d2cf" stroke-width="0.54"/>
<path d="M2.67 12.38 Q4.93 10.73 7.04 8.9" fill="none" stroke="#62d2cf" stroke-width="0.9"/>
<path d="M2.67 12.38 Q3.59 13.48 4.88 14" fill="none" stroke="#62d2cf" stroke-width="0.53"/>
<path d="M8.34 18.92 Q7.76 18.14 7.51 16.63" fill="none" stroke="#62d2cf" stroke-width="0.6"/>
<path d="M2.47 12.38 Q2.36 12.56 2.67 12.38" fill="none" stroke="#62d2cf" stroke-width="0.65"/>
<path d="M35.76 -8.85 Q33.2 -7.24 30.27 -4.92" fill="none" stroke="#62d2cf" stroke-width="0.68"/>
<path d="M30.27 -4.92 Q28.81 -6.07 26.86 -7.43" fill="none" stroke="#62d2cf" stroke-width="0.82"/>
<path d="M25.73 5.3 Q26.74 5.43 27.27 6.18" fill="none" stroke="#62d2cf" stroke-width="0.61"/>
<path d="M23.92 9.61 Q23.92 9.43 24.36 9.81" fill="none" stroke="#62d2cf" stroke-width="0.64"/>
<path d="M27.27 6.18 Q25.97 7.89 24.36 9.81" fill="none" stroke="#62d2cf" stroke-width="1.01"/>
<path d="M33.41 5.29 Q31.78 4.55 30.6 3.89" fill="none" stroke="#62d2cf" stroke-width="0.99"/>
<path d="M33.41 5.29 Q35.37 4.46 37.53 3.35" fill="none" stroke="#62d2cf" stroke-width="0.92"/>
<path d="M36.35 0.22 Q35.3 -1.12 33.8 -1.79" fill="none" stroke="#62d2cf" stroke-width="0.98"/>
<path d="M30.6 3.89 Q30.07 2.02 29.96 0.87" fill="none" stroke="#62d2cf" stroke-width="0.57"/>
<path d="M29.96 0.87 Q30.99 -0.52 31.71 -1.39" fill="none" stroke="#62d2cf" stroke-width="0.92"/>
<path d="M31.71 -1.39 Q32.84 -1.76 33.8 -1.79" fill="none" stroke="#62d2cf" stroke-width="1.1"/>
<path d="M37.55 -6.98 Q35.36 -4.14 33.8 -1.79" fill="none" stroke="#62d2cf" stroke-width="0.8"/>
<path d="M26.56 -0.13 Q28.3 0.62 29.96 0.87" fill="none" stroke="#62d2cf" stroke-width="0.78"/>
<path d="M27.27 6.18 Q28.06 5.78 28.39 5.99" fill="none" stroke="#62d2cf" stroke-width="0.72"/>
<path d="M28.39 5.99 Q29.8 4.71 30.6 3.89" fill="none" stroke="#62d2cf" stroke-width="1.03"/>
<path d="M30.27 -4.92 Q31.14 -3.24 31.71 -1.39" fill="none" stroke="#62d2cf" stroke-width="0.95"/>
<path d="M18.62 20.14 Q18.49 19.82 18.57 19.8" fill="none" stroke="#62d2cf" stroke-width="0.89"/>
<path d="M23.62 16.02 Q23.41 15.77 23.23 15.99" fill="none" stroke="#62d2cf" stroke-width="0.71"/>
<path d="M23.23 15.99 Q20.87 17.71 18.57 19.8" fill="none" stroke="#62d2cf" stroke-width="0.64"/>
<path d="M14.95 23.58 Q14.68 20.4 14.78 16.67" fill="none" stroke="#62d2cf" stroke-width="0.5"/>
<path d="M18.57 19.8 Q16.77 18.15 14.78 16.67" fill="none" stroke="#62d2cf" stroke-width="1.02"/>
<path d="M7.7 6.28 Q3.51 5.03 -0.15 4.39" fill="none" stroke="#62d2cf" stroke-width="1.05"/>
<path d="M7.7 6.28 Q5.95 3.76 3.9 0.96" fill="none" stroke="#62d2cf" stroke-width="0.88"/>
<path d="M3.9 0.96 Q2 2.49 -0.15 4.39" fill="none" stroke="#62d2cf" stroke-width="0.95"/>
<path d="M8.01 6.38 Q7.53 6.19 7.7 6.28" fill="none" stroke="#62d2cf" stroke-width="0.74"/>
<path d="M7.1 -1.82 Q6.59 -2.11 6.29 -1.64" fill="none" stroke="#62d2cf" stroke-width="0.49"/>
<path d="M3.9 0.96 Q5.16 -0.19 6.29 -1.64" fill="none" stroke="#62d2cf" stroke-width="0.81"/>
<path d="M-1.19 4.73 Q-1.19 4.43 -1.1 4.59" fill="none" stroke="#62d2cf" stroke-width="0.72"/>
<path d="M-1.1 4.59 Q-0.45 4.78 -0.15 4.39" fill="none" stroke="#62d2cf" stroke-width="0.73"/>
<path d="M7.58 -10.33 Q8.07 -7.9 8.19 -4.69" fill="none" stroke="#62d2cf" stroke-width="0.63"/>
<path d="M8.19 -4.69 Q5.77 -6.81 3.36 -9.36" fill="none" stroke="#62d2cf" stroke-width="1.02"/>
<path d="M12.37 -3.84 Q12.06 -7.19 12.04 -9.91" fill="none" stroke="#62d2cf" stroke-width="1"/>
<path d="M8.83 -3.49 Q8.9 -3.49 8.6 -3.83" fill="none" stroke="#62d2cf" stroke-width="0.57"/>
<path d="M8.6 -3.83 Q8.75 -4.03 8.19 -4.69" fill="none" stroke="#62d2cf" stroke-width="0.92"/>
<path d="M17.21 -4.48 Q16.95 -7.99 16.9 -11.32" fill="none" stroke="#62d2cf" stroke-width="0.94"/>
<path d="M28.39 5.99 Q28.88 7.16 29.25 9.09" fill="none" stroke="#62d2cf" stroke-width="1.05"/>
<path d="M24.36 9.81 Q24.45 9.9 24.61 10.37" fill="none" stroke="#62d2cf" stroke-width="1.01"/>
<path d="M29.25 9.09 Q26.53 9.88 24.61 10.37" fill="none" stroke="#62d2cf" stroke-width="0.63"/>
<path d="M24.89 15.78 Q25.19 15.2 25.8 14.19" fill="none" stroke="#62d2cf" stroke-width="0.77"/>
<path d="M30.7 16.03 Q30.39 17.96 29.4 19.46" fill="none" stroke="#62d2cf" stroke-width="1.03"/>
<path d="M30.7 16.03 Q29.83 14.64 28.32 13.22" fill="none" stroke="#62d2cf" stroke-width="0.91"/>
<path d="M28.32 13.22 Q27.04 13.7 25.8 14.19" fill="none" stroke="#62d2cf" stroke-width="0.67"/>
<path d="M21.36 11.42 Q21.12 13.16 21.64 15.1" fill="none" stroke="#62d2cf" stroke-width="1.1"/>
<path d="M21.64 15.1 Q22.49 15.8 23.23 15.99" fill="none" stroke="#62d2cf" stroke-width="0.99"/>
<path d="M25.8 14.19 Q25.35 12.03 24.61 10.37" fill="none" stroke="#62d2cf" stroke-width="0.63"/>
<path d="M30.7 16.03 Q32.43 16.12 33.71 15.59" fill="none" stroke="#62d2cf" stroke-width="1.11"/>
<path d="M28.32 13.22 Q28.84 12.48 29.56 12.4" fill="none" stroke="#62d2cf" stroke-width="1.08"/>
<path d="M29.56 12.4 Q31.72 13.96 33.71 15.59" fill="none" stroke="#62d2cf" stroke-width="0.58"/>
<path d="M36.19 17.44 Q35.31 16.55 35 16.12" fill="none" stroke="#62d2cf" stroke-width="0.98"/>
<path d="M33.71 15.59 Q34.53 15.83 35 16.12" fill="none" stroke="#62d2cf" stroke-width="1.06"/>
<path d="M33.74 6.81 Q32.08 8.21 29.79 10.2" fill="none" stroke="#62d2cf" stroke-width="1.01"/>
<path d="M33.74 6.81 Q34.29 8.36 35 9.46" fill="none" stroke="#62d2cf" stroke-width="0.9"/>
<path d="M35 9.46 Q34.11 9.91 33.95 10.83" fill="none" stroke="#62d2cf" stroke-width="1.09"/>
<path d="M33.95 10.83 Q31.67 11.29 30 11.65" fill="none" stroke="#62d2cf" stroke-width="0.89"/>
<path d="M29.79 10.2 Q30.25 10.72 30 11.65" fill="none" stroke="#62d2cf" stroke-width="0.89"/>
<path d="M33.41 5.29 Q33.35 5.93 33.74 6.81" fill="none" stroke="#62d2cf" stroke-width="1.03"/>
<path d="M29.25 9.09 Q29.32 9.87 29.79 10.2" fill="none" stroke="#62d2cf" stroke-width="1.04"/>
<path d="M35 16.12 Q34.46 13.4 33.95 10.83" fill="none" stroke="#62d2cf" stroke-width="1.04"/>
<path d="M29.56 12.4 Q29.7 12.41 30 11.65" fill="none" stroke="#62d2cf" stroke-width="0.62"/>
<path d="M21.46 15.03 Q18.1 15.82 14.71 16.58" fill="none" stroke="#62d2cf" stroke-width="0.7"/>
<path d="M21.46 15.03 Q19.48 13.1 18.01 11.44" fill="none" stroke="#62d2cf" stroke-width="0.63"/>
<path d="M16.97 12.09 Q17.32 11.41 18.01 11.44" fill="none" stroke="#62d2cf" stroke-width="0.87"/>
<path d="M16.97 12.09 Q15.5 13.63 14.28 14.47" fill="none" stroke="#62d2cf" stroke-width="0.66"/>
<path d="M14.28 14.47 Q14.11 15.37 14.34 16.31" fill="none" stroke="#62d2cf" stroke-width="0.49"/>
<path d="M14.34 16.31 Q14.4 16.17 14.71 16.58" fill="none" stroke="#62d2cf" stroke-width="0.53"/>
<path d="M21.64 15.1 Q21.2 14.9 21.46 15.03" fill="none" stroke="#62d2cf" stroke-width="0.53"/>
<path d="M14.78 16.67 Q14.62 16.88 14.71 16.58" fill="none" stroke="#62d2cf" stroke-width="0.6"/>
<path d="M18.17 10.95 Q17.8 11.12 18.01 11.44" fill="none" stroke="#62d2cf" stroke-width="0.8"/>
<path d="M13.78 8.67 Q15.63 10.38 16.97 12.09" fill="none" stroke="#62d2cf" stroke-width="1.05"/>
<path d="M12.47 12.25 Q13.07 12.99 14.28 14.47" fill="none" stroke="#62d2cf" stroke-width="1.04"/>
<path d="M10.47 18.37 Q12.48 17.16 14.34 16.31" fill="none" stroke="#62d2cf" stroke-width="0.98"/>
<path d="M8.6 -3.83 Q5.21 -5.21 2.54 -6.44" fill="none" stroke="#62d2cf" stroke-width="0.79"/>
<path d="M6.29 -1.64 Q3.09 -2.66 0.41 -3.66" fill="none" stroke="#62d2cf" stroke-width="0.71"/>
<path d="M0.41 -3.66 Q1.68 -5.05 2.54 -6.44" fill="none" stroke="#62d2cf" stroke-width="0.99"/>
<path d="M-2.78 -2.02 Q-2.77 -3.03 -2.19 -3.25" fill="none" stroke="#62d2cf" stroke-width="0.69"/>
<path d="M-2.78 -2.02 Q-5.29 -1.8 -7.91 -1.44" fill="none" stroke="#62d2cf" stroke-width="0.52"/>
<path d="M-2.19 -3.25 Q-2.81 -4.86 -2.95 -5.81" fill="none" stroke="#62d2cf" stroke-width="1.1"/>
<path d="M-1.1 4.59 Q-1.96 1.42 -2.78 -2.02" fill="none" stroke="#62d2cf" stroke-width="0.93"/>
<path d="M0.41 -3.66 Q-1.27 -3.77 -2.19 -3.25" fill="none" stroke="#62d2cf" stroke-width="0.9"/>
</g>
</pattern>
</defs>
<polygon points="62,146 731,146 731,247.6 62,261.5" fill="#dedede"/><line x1="90" y1="153.3" x2="730" y2="153.3" stroke="#777" stroke-width="0.6" stroke-dasharray="1.2,1.6"/><line x1="90" y1="253.6" x2="730" y2="244" stroke="#777" stroke-width="0.6" stroke-dasharray="1.2,1.6"/><clipPath id="cg"><polygon points="224,153.2 491.5,153.2 491.5,191.3 170,191.3"/><polygon points="169.6,213.2 491.6,209.3 491.6,245.5 222,250.6"/></clipPath><polygon points="224,153.2 491.5,153.2 491.5,191.3 170,191.3" fill="#63c963" stroke="#3f8f3f" stroke-width="0.5"/><polygon points="169.6,213.2 491.6,209.3 491.6,245.5 222,250.6" fill="#63c963" stroke="#3f8f3f" stroke-width="0.5"/><g clip-path="url(#cg)"><line x1="242.86" y1="150" x2="178.57" y2="195" stroke="#3f8a3f" stroke-width="2.4"/><line x1="242.86" y1="150" x2="178.57" y2="195" stroke="#f4f4f4" stroke-width="1.1"/><line x1="277.06" y1="150" x2="212.77" y2="195" stroke="#3f8a3f" stroke-width="2.4"/><line x1="277.06" y1="150" x2="212.77" y2="195" stroke="#f4f4f4" stroke-width="1.1"/><line x1="312.06" y1="150" x2="247.77" y2="195" stroke="#3f8a3f" stroke-width="2.4"/><line x1="312.06" y1="150" x2="247.77" y2="195" stroke="#f4f4f4" stroke-width="1.1"/><line x1="364.86" y1="150" x2="300.57" y2="195" stroke="#3f8a3f" stroke-width="2.4"/><line x1="364.86" y1="150" x2="300.57" y2="195" stroke="#f4f4f4" stroke-width="1.1"/><line x1="399.26" y1="150" x2="334.97" y2="195" stroke="#3f8a3f" stroke-width="2.4"/><line x1="399.26" y1="150" x2="334.97" y2="195" stroke="#f4f4f4" stroke-width="1.1"/><line x1="433.46" y1="150" x2="369.17" y2="195" stroke="#3f8a3f" stroke-width="2.4"/><line x1="433.46" y1="150" x2="369.17" y2="195" stroke="#f4f4f4" stroke-width="1.1"/><line x1="173.23" y1="205" x2="244.66" y2="255" stroke="#3f8a3f" stroke-width="2.4"/><line x1="173.23" y1="205" x2="244.66" y2="255" stroke="#f4f4f4" stroke-width="1.1"/><line x1="208.06" y1="205" x2="279.49" y2="255" stroke="#3f8a3f" stroke-width="2.4"/><line x1="208.06" y1="205" x2="279.49" y2="255" stroke="#f4f4f4" stroke-width="1.1"/><line x1="243.09" y1="205" x2="314.52" y2="255" stroke="#3f8a3f" stroke-width="2.4"/><line x1="243.09" y1="205" x2="314.52" y2="255" stroke="#f4f4f4" stroke-width="1.1"/><line x1="297.98" y1="205" x2="369.41" y2="255" stroke="#3f8a3f" stroke-width="2.4"/><line x1="297.98" y1="205" x2="369.41" y2="255" stroke="#f4f4f4" stroke-width="1.1"/><line x1="332.41" y1="205" x2="403.84" y2="255" stroke="#3f8a3f" stroke-width="2.4"/><line x1="332.41" y1="205" x2="403.84" y2="255" stroke="#f4f4f4" stroke-width="1.1"/><line x1="367.84" y1="205" x2="439.27" y2="255" stroke="#3f8a3f" stroke-width="2.4"/><line x1="367.84" y1="205" x2="439.27" y2="255" stroke="#f4f4f4" stroke-width="1.1"/></g><polygon points="263.7,191.6 292.5,191.6 348.8,153 320.4,153" fill="#dedede"/><polygon points="389,191.6 404.5,191.6 452,153 439,153" fill="#dedede"/><polygon points="262.2,211.6 293.5,211.2 349.9,249.7 321.8,250" fill="#dedede"/><polygon points="389,209.2 404.5,209.2 453,246 440,246.5" fill="#dedede"/><line x1="292.5" y1="191.4" x2="348.8" y2="153.2" stroke="#3f8f3f" stroke-width="0.5"/><line x1="263.7" y1="191.4" x2="320.4" y2="153.2" stroke="#3f8f3f" stroke-width="0.5"/><line x1="404.5" y1="191.4" x2="452" y2="153.2" stroke="#3f8f3f" stroke-width="0.5"/><line x1="389" y1="191.4" x2="439" y2="153.2" stroke="#3f8f3f" stroke-width="0.5"/><line x1="262.2" y1="211.6" x2="321.8" y2="249.8" stroke="#3f8f3f" stroke-width="0.5"/><line x1="293.5" y1="211.3" x2="349.9" y2="249.6" stroke="#3f8f3f" stroke-width="0.5"/><line x1="389" y1="209.4" x2="440" y2="246.3" stroke="#3f8f3f" stroke-width="0.5"/><line x1="404.5" y1="209.4" x2="453" y2="246" stroke="#3f8f3f" stroke-width="0.5"/><polygon points="190.51,177.98 194.15,175.33 192.8,173.47 217.48,155.54 218.83,157.4 223.68,153.88 233.09,166.82 228.64,170.06 229.81,171.67 206.35,188.72 205.18,187.1 199.92,190.92" fill="#808080" stroke="#4a4a4a" stroke-width="0.6"/><polygon points="224.71,177.98 228.35,175.33 227,173.47 251.68,155.54 253.03,157.4 257.88,153.88 267.29,166.82 262.84,170.06 264.01,171.67 240.55,188.72 239.38,187.1 234.12,190.92" fill="#808080" stroke="#4a4a4a" stroke-width="0.6"/><polygon points="259.71,177.98 263.35,175.33 262,173.47 286.68,155.54 288.03,157.4 292.88,153.88 302.29,166.82 297.84,170.06 299.01,171.67 275.55,188.72 274.38,187.1 269.12,190.92" fill="#808080" stroke="#4a4a4a" stroke-width="0.6"/><polygon points="312.51,177.98 316.15,175.33 314.8,173.47 339.48,155.54 340.83,157.4 345.68,153.88 355.09,166.82 350.64,170.06 351.81,171.67 328.35,188.72 327.18,187.1 321.92,190.92" fill="#808080" stroke="#4a4a4a" stroke-width="0.6"/><polygon points="346.91,177.98 350.55,175.33 349.2,173.47 373.88,155.54 375.23,157.4 380.08,153.88 389.49,166.82 385.04,170.06 386.21,171.67 362.75,188.72 361.58,187.1 356.32,190.92" fill="#808080" stroke="#4a4a4a" stroke-width="0.6"/><polygon points="381.11,177.98 384.75,175.33 383.4,173.47 408.08,155.54 409.43,157.4 414.28,153.88 423.69,166.82 419.24,170.06 420.41,171.67 396.95,188.72 395.78,187.1 390.52,190.92" fill="#808080" stroke="#4a4a4a" stroke-width="0.6"/><polygon points="191.01,226.42 194.65,229.07 193.3,230.93 217.98,248.86 219.33,247 224.18,250.52 233.59,237.58 229.14,234.34 230.31,232.73 206.85,215.68 205.68,217.3 200.42,213.48" fill="#808080" stroke="#4a4a4a" stroke-width="0.6"/><polygon points="224.82,225.71 228.46,228.35 227.11,230.21 251.78,248.14 253.14,246.28 257.99,249.81 267.4,236.86 262.95,233.63 264.12,232.01 240.66,214.96 239.48,216.58 234.23,212.76" fill="#808080" stroke="#4a4a4a" stroke-width="0.6"/><polygon points="258.82,224.99 262.46,227.63 261.11,229.49 285.79,247.42 287.14,245.56 291.99,249.09 301.4,236.14 296.95,232.91 298.12,231.29 274.66,214.24 273.49,215.86 268.23,212.04" fill="#808080" stroke="#4a4a4a" stroke-width="0.6"/><polygon points="312.1,223.86 315.74,226.5 314.39,228.36 339.07,246.29 340.42,244.43 345.27,247.96 354.68,235.01 350.23,231.78 351.4,230.16 327.94,213.12 326.77,214.73 321.51,210.91" fill="#808080" stroke="#4a4a4a" stroke-width="0.6"/><polygon points="345.52,223.15 349.16,225.8 347.81,227.66 372.49,245.58 373.84,243.72 378.69,247.25 388.1,234.31 383.65,231.07 384.82,229.45 361.36,212.41 360.19,214.03 354.93,210.21" fill="#808080" stroke="#4a4a4a" stroke-width="0.6"/><polygon points="379.91,222.42 383.55,225.07 382.2,226.93 406.88,244.86 408.23,243 413.08,246.52 422.49,233.58 418.04,230.34 419.21,228.73 395.75,211.68 394.58,213.3 389.32,209.48" fill="#808080" stroke="#4a4a4a" stroke-width="0.6"/><polygon points="90,174.5 144,174.5 182.5,146 207,146 144,191.5 90,191.5" fill="#808080"/><polygon points="90,213.6 143.6,213.6 206.8,258.8 182.8,258.8 143.8,230.6 90,230.6" fill="#808080"/><polygon points="182.5,146.2 207,146.2 197,153.3 172.7,153.3" fill="#7a7a7a" stroke="#555" stroke-width="0.5"/><line x1="182.5" y1="146.2" x2="197" y2="153.3" stroke="#555" stroke-width="0.4"/><line x1="207" y1="146.2" x2="172.7" y2="153.3" stroke="#555" stroke-width="0.4"/><polygon points="174.5,252.8 198.4,252.8 206.8,258.8 182.8,258.8" fill="#7a7a7a" stroke="#555" stroke-width="0.5"/><line x1="174.5" y1="252.8" x2="206.8" y2="258.8" stroke="#555" stroke-width="0.4"/><line x1="198.4" y1="252.8" x2="182.8" y2="258.8" stroke="#555" stroke-width="0.4"/><rect x="62" y="146" width="28.5" height="115" fill="#808080" stroke="#666" stroke-width="0.5"/><line x1="62" y1="146" x2="90.5" y2="158.5" stroke="#555" stroke-width="0.5"/><line x1="90.5" y1="146" x2="62" y2="158.5" stroke="#555" stroke-width="0.5"/><line x1="62" y1="146" x2="90.5" y2="146" stroke="#555" stroke-width="0.6" stroke-dasharray="1,1"/><line x1="62" y1="158.5" x2="90.5" y2="158.5" stroke="#555" stroke-width="0.6" stroke-dasharray="1,1"/><line x1="62" y1="191.7" x2="90.5" y2="213.4" stroke="#555" stroke-width="0.5"/><line x1="90.5" y1="191.7" x2="62" y2="213.4" stroke="#555" stroke-width="0.5"/><line x1="62" y1="191.7" x2="90.5" y2="191.7" stroke="#555" stroke-width="0.6" stroke-dasharray="1,1"/><line x1="62" y1="213.4" x2="90.5" y2="213.4" stroke="#555" stroke-width="0.6" stroke-dasharray="1,1"/><line x1="62" y1="246.6" x2="90.5" y2="261" stroke="#555" stroke-width="0.5"/><line x1="90.5" y1="246.6" x2="62" y2="261" stroke="#555" stroke-width="0.5"/><line x1="62" y1="246.6" x2="90.5" y2="246.6" stroke="#555" stroke-width="0.6" stroke-dasharray="1,1"/><line x1="62" y1="261" x2="90.5" y2="261" stroke="#555" stroke-width="0.6" stroke-dasharray="1,1"/><rect x="491.5" y="146.4" width="80.2" height="49.8" fill="#dedede" stroke="#666" stroke-width="0.7"/><line x1="491.5" y1="153.3" x2="571.7" y2="153.3" stroke="#888" stroke-width="0.5" stroke-dasharray="1,1.5"/><line x1="491.5" y1="191.3" x2="571.7" y2="191.3" stroke="#888" stroke-width="0.5" stroke-dasharray="1,1.5"/><rect x="497.5" y="152.8" width="68.3" height="36.6" fill="#ec7b0a" stroke="#6b3a08" stroke-width="0.6"/><g fill="none" stroke="#5a3008" stroke-width="0.55"><line x1="531.6" y1="152.8" x2="531.6" y2="189.4"/><circle cx="531.6" cy="171" r="4.6"/><circle cx="531.6" cy="171" r="1.4"/><path d="M511 154.8 A22.7 22.7 0 0 1 511 187.6"/><path d="M552 154.8 A22.7 22.7 0 0 0 552 187.6"/><rect x="497.5" y="166.3" width="13.8" height="9"/><rect x="552" y="166.3" width="13.8" height="9"/><circle cx="511.3" cy="171" r="4"/><circle cx="552" cy="171" r="4"/><line x1="499" y1="154.8" x2="511" y2="154.8"/><line x1="499" y1="187.6" x2="511" y2="187.6"/><line x1="552" y1="154.8" x2="564.5" y2="154.8"/><line x1="552" y1="187.6" x2="564.5" y2="187.6"/></g><line x1="494" y1="171" x2="501" y2="171" stroke="#444" stroke-width="1"/><line x1="562" y1="171" x2="569" y2="171" stroke="#444" stroke-width="1"/><circle cx="500.6" cy="171" r="0.9" fill="#222"/><circle cx="562.7" cy="171" r="0.9" fill="#222"/><rect x="497.5" y="226.5" width="74" height="17" fill="#808080" stroke="#666" stroke-width="0.5"/><polygon points="578.6,153.2 605.2,153.2 605.2,164.4 578.6,170.4" fill="#63c963" stroke="#3f8f3f" stroke-width="0.5"/><polygon points="578.6,179.6 605.2,168.2 605.2,191.2 578.6,191.2" fill="#63c963" stroke="#3f8f3f" stroke-width="0.5"/><polygon points="578.6,205.5 605.2,205.5 605.2,227.8 578.6,216" fill="#63c963" stroke="#3f8f3f" stroke-width="0.5"/><polygon points="578.6,226 605.2,233.5 605.2,243.1 578.6,243.1" fill="#63c963" stroke="#3f8f3f" stroke-width="0.5"/><rect x="605.2" y="153.2" width="35.8" height="38" fill="#808080" stroke="#666" stroke-width="0.5"/><rect x="605.2" y="205.5" width="35.8" height="37.6" fill="#808080" stroke="#666" stroke-width="0.5"/><rect x="641" y="153.2" width="30.6" height="38" fill="#8a4300"/><rect x="641" y="205.8" width="30.6" height="37.4" fill="#8a4300"/><rect x="642" y="165" width="29.4" height="13.6" fill="url(#pool)" stroke="#d0d0d0" stroke-width="1"/><rect x="642" y="217.8" width="29.4" height="12.6" fill="url(#pool)" stroke="#d0d0d0" stroke-width="1"/><rect x="671.8" y="165" width="7" height="14" fill="#808080" stroke="#444" stroke-width="0.7"/><rect x="671.8" y="217" width="7" height="14" fill="#808080" stroke="#444" stroke-width="0.7"/><rect x="678" y="153" width="52.5" height="7" fill="#808080" stroke="#666" stroke-width="0.4"/><rect x="685.5" y="236" width="45" height="7.5" fill="#808080" stroke="#666" stroke-width="0.4"/><rect x="730.5" y="146" width="128.3" height="101.3" fill="#ffff00" stroke="#9a9a9a" stroke-width="0.5"/><circle cx="772.83" cy="162.63" r="0.45" fill="#9a9a30"/><circle cx="813.06" cy="155.03" r="0.45" fill="#9a9a30"/><circle cx="798.91" cy="183.47" r="0.45" fill="#9a9a30"/><circle cx="740.13" cy="197.22" r="0.45" fill="#9a9a30"/><circle cx="737.61" cy="190.06" r="0.45" fill="#9a9a30"/><circle cx="741.59" cy="156.8" r="0.45" fill="#9a9a30"/><circle cx="785.22" cy="228.2" r="0.45" fill="#9a9a30"/><circle cx="748.23" cy="169.65" r="0.45" fill="#9a9a30"/><circle cx="810.17" cy="239.93" r="0.45" fill="#9a9a30"/><circle cx="803.98" cy="186.48" r="0.45" fill="#9a9a30"/><circle cx="853.08" cy="152.52" r="0.45" fill="#9a9a30"/><circle cx="838.59" cy="176.09" r="0.45" fill="#9a9a30"/><circle cx="750.74" cy="159.43" r="0.45" fill="#9a9a30"/><circle cx="770.94" cy="227.16" r="0.45" fill="#9a9a30"/><circle cx="755.23" cy="204.42" r="0.45" fill="#9a9a30"/><circle cx="811.59" cy="184.12" r="0.45" fill="#9a9a30"/><circle cx="800.37" cy="154.09" r="0.45" fill="#9a9a30"/><circle cx="740.33" cy="167.98" r="0.45" fill="#9a9a30"/><circle cx="816.69" cy="189.48" r="0.45" fill="#9a9a30"/><circle cx="771.64" cy="204.8" r="0.45" fill="#9a9a30"/><circle cx="788.74" cy="177.08" r="0.45" fill="#9a9a30"/><circle cx="830.71" cy="215.8" r="0.45" fill="#9a9a30"/><circle cx="763.02" cy="203.72" r="0.45" fill="#9a9a30"/><circle cx="797.6" cy="232.89" r="0.45" fill="#9a9a30"/><circle cx="822.72" cy="175.93" r="0.45" fill="#9a9a30"/><circle cx="853.56" cy="159.45" r="0.45" fill="#9a9a30"/><circle cx="784.43" cy="221.44" r="0.45" fill="#9a9a30"/><circle cx="751.69" cy="195.43" r="0.45" fill="#9a9a30"/><circle cx="737.82" cy="212.82" r="0.45" fill="#9a9a30"/><circle cx="827.04" cy="203.58" r="0.45" fill="#9a9a30"/><circle cx="840.68" cy="178.43" r="0.45" fill="#9a9a30"/><circle cx="818.52" cy="205.65" r="0.45" fill="#9a9a30"/><circle cx="804.33" cy="192.25" r="0.45" fill="#9a9a30"/><circle cx="836.32" cy="239.63" r="0.45" fill="#9a9a30"/><circle cx="791.31" cy="212.42" r="0.45" fill="#9a9a30"/><circle cx="740.46" cy="216.04" r="0.45" fill="#9a9a30"/><circle cx="812.6" cy="244.33" r="0.45" fill="#9a9a30"/><circle cx="834.1" cy="175.61" r="0.45" fill="#9a9a30"/><circle cx="780.45" cy="212.86" r="0.45" fill="#9a9a30"/><circle cx="735.78" cy="192.78" r="0.45" fill="#9a9a30"/><circle cx="753.67" cy="159.36" r="0.45" fill="#9a9a30"/><circle cx="740.25" cy="222.52" r="0.45" fill="#9a9a30"/><circle cx="748.91" cy="172.02" r="0.45" fill="#9a9a30"/><circle cx="781.09" cy="232.53" r="0.45" fill="#9a9a30"/><circle cx="742.91" cy="191.57" r="0.45" fill="#9a9a30"/><circle cx="800.58" cy="233.69" r="0.45" fill="#9a9a30"/><circle cx="833.77" cy="231.81" r="0.45" fill="#9a9a30"/><circle cx="767.25" cy="188.28" r="0.45" fill="#9a9a30"/><circle cx="777.13" cy="233.77" r="0.45" fill="#9a9a30"/><circle cx="850.8" cy="162.64" r="0.45" fill="#9a9a30"/><circle cx="754.67" cy="170.5" r="0.45" fill="#9a9a30"/><circle cx="761.7" cy="195.04" r="0.45" fill="#9a9a30"/><circle cx="805.46" cy="173.49" r="0.45" fill="#9a9a30"/><circle cx="733.5" cy="188.64" r="0.45" fill="#9a9a30"/><circle cx="778.42" cy="202.94" r="0.45" fill="#9a9a30"/><circle cx="850.23" cy="214.98" r="0.45" fill="#9a9a30"/><circle cx="796.41" cy="207.91" r="0.45" fill="#9a9a30"/><circle cx="816.17" cy="153.24" r="0.45" fill="#9a9a30"/><circle cx="843.64" cy="223.66" r="0.45" fill="#9a9a30"/><circle cx="840.57" cy="225.39" r="0.45" fill="#9a9a30"/><circle cx="781.26" cy="186.7" r="0.45" fill="#9a9a30"/><circle cx="745.74" cy="209.53" r="0.45" fill="#9a9a30"/><circle cx="740.66" cy="154.53" r="0.45" fill="#9a9a30"/><circle cx="758.68" cy="163.74" r="0.45" fill="#9a9a30"/><circle cx="774.83" cy="153.1" r="0.45" fill="#9a9a30"/><circle cx="733.03" cy="162.67" r="0.45" fill="#9a9a30"/><circle cx="745.48" cy="183.27" r="0.45" fill="#9a9a30"/><circle cx="736.14" cy="232.81" r="0.45" fill="#9a9a30"/><circle cx="808.53" cy="162.41" r="0.45" fill="#9a9a30"/><circle cx="764.03" cy="181.7" r="0.45" fill="#9a9a30"/><path d="M855.23 146 L855.44 147 L855.5 148 L855.38 149 L855.11 150 L854.68 151 L854.12 152 L853.45 153 L852.7 154 L851.9 155 L851.08 156 L850.28 157 L849.53 158 L848.86 159 L848.31 160 L847.88 161 L847.61 162 L847.5 163 L847.56 164 L847.78 165 L848.16 166 L848.67 167 L849.31 168 L850.03 169 L850.82 170 L851.64 171 L852.45 172 L853.22 173 L853.91 174 L854.51 175 L854.98 176 L855.31 177 L855.48 178 L855.48 179 L855.32 180 L854.99 181 L854.52 182 L853.93 183 L853.23 184 L852.46 185 L851.65 186 L850.83 187 L850.05 188 L849.32 189 L848.68 190 L848.16 191 L847.79 192 L847.56 193 L847.5 194 L847.61 195 L847.88 196 L848.3 197 L848.85 198 L849.52 199 L850.27 200 L851.07 201 L851.88 202 L852.68 203 L853.44 204 L854.11 205 L854.67 206 L855.1 207 L855.38 208 L855.5 209 L855.45 210 L855.23 211 L854.86 212 L854.35 213 L853.72 214 L853 215 L852.22 216 L851.4 217 L850.59 218 L849.82 219 L849.12 220 L848.51 221 L848.03 222 L847.7 223 L847.53 224 L847.52 225 L847.67 226 L847.99 227 L848.45 228 L849.05 229 L849.74 230 L850.5 231 L851.31 232 L852.13 233 L852.92 234 L853.65 235 L854.29 236 L854.81 237 L855.2 238 L855.43 239 L855.5 240 L855.4 241 L855.14 242 L854.72 243 L854.17 244 L853.51 245 L852.77 246 L851.97 247" fill="none" stroke="#777" stroke-width="0.5" stroke-dasharray="0.8,1"/><path d="M730.5 174.3 A43.8 43.8 0 0 1 730.5 222.7 Z" fill="#dedede"/><path d="M730.5 174.3 A43.8 43.8 0 0 1 730.5 222.7" fill="none" stroke="#666" stroke-width="0.6"/><line x1="730.8" y1="176" x2="730.8" y2="222" stroke="#f09a9a" stroke-width="0.8" stroke-dasharray="3,4"/><circle cx="705.4" cy="198.5" r="24.6" fill="none" stroke="#f4f4f4" stroke-width="1"/><circle cx="705.4" cy="198.5" r="24" fill="#808080" stroke="#555" stroke-width="0.7"/><circle cx="705.4" cy="198.5" r="7.4" fill="none" stroke="#555" stroke-width="0.5"/><rect x="858.6" y="146" width="125.6" height="101.3" fill="url(#sea)"/><line x1="62" y1="146" x2="730.5" y2="146" stroke="#e58585" stroke-width="0.9" stroke-dasharray="6,6"/><line x1="62" y1="261.8" x2="730.5" y2="248" stroke="#e58585" stroke-width="0.9" stroke-dasharray="6,6"/><line x1="62" y1="146" x2="62" y2="261" stroke="#e58585" stroke-width="0.6"/><line x1="55" y1="204" x2="994" y2="197.7" stroke="#666" stroke-width="0.9" stroke-dasharray="6.5,3"/><line x1="858.6" y1="198.2" x2="984" y2="197.8" stroke="#1d3236" stroke-width="0.9" stroke-opacity="0.8"/><g font-family="Liberation Sans" fill="#000"><circle cx="76.1" cy="172.2" r="6.8" fill="none" stroke="#505050" stroke-width="0.65"/><text transform="translate(76.1,172.2) scale(0.9,1)" x="0" y="3.9" font-size="10.8" font-weight="bold" text-anchor="middle">1</text><circle cx="119" cy="162.6" r="6.8" fill="#fff" stroke="#505050" stroke-width="0.65"/><text transform="translate(119,162.6) scale(0.9,1)" x="0" y="3.9" font-size="10.8" font-weight="bold" text-anchor="middle">4</text><circle cx="119" cy="182.4" r="6.8" fill="none" stroke="#505050" stroke-width="0.65"/><text transform="translate(119,182.4) scale(0.9,1)" x="0" y="3.9" font-size="10.8" font-weight="bold" text-anchor="middle">2</text><circle cx="119" cy="221.8" r="6.8" fill="none" stroke="#505050" stroke-width="0.65"/><text transform="translate(119,221.8) scale(0.9,1)" x="0" y="3.9" font-size="10.8" font-weight="bold" text-anchor="middle">3</text><circle cx="119" cy="242.5" r="6.8" fill="#fff" stroke="#505050" stroke-width="0.65"/><text transform="translate(119,242.5) scale(0.9,1)" x="0" y="3.9" font-size="10.8" font-weight="bold" text-anchor="middle">5</text><circle cx="211" cy="172.4" r="6.8" fill="none" stroke="#505050" stroke-width="0.65"/><text transform="translate(211,172.4) scale(0.9,1)" x="0" y="3.9" font-size="10.8" font-weight="bold" text-anchor="middle">6</text><circle cx="245.2" cy="172.4" r="6.8" fill="none" stroke="#505050" stroke-width="0.65"/><text transform="translate(245.2,172.4) scale(0.9,1)" x="0" y="3.9" font-size="10.8" font-weight="bold" text-anchor="middle">6</text><circle cx="280.2" cy="172.4" r="6.8" fill="none" stroke="#505050" stroke-width="0.65"/><text transform="translate(280.2,172.4) scale(0.9,1)" x="0" y="3.9" font-size="10.8" font-weight="bold" text-anchor="middle">6</text><circle cx="333" cy="172.4" r="6.8" fill="none" stroke="#505050" stroke-width="0.65"/><text transform="translate(333,172.4) scale(0.9,1)" x="0" y="3.9" font-size="10.8" font-weight="bold" text-anchor="middle">6</text><circle cx="367.4" cy="172.4" r="6.8" fill="none" stroke="#505050" stroke-width="0.65"/><text transform="translate(367.4,172.4) scale(0.9,1)" x="0" y="3.9" font-size="10.8" font-weight="bold" text-anchor="middle">6</text><circle cx="401.6" cy="172.4" r="6.8" fill="none" stroke="#505050" stroke-width="0.65"/><text transform="translate(401.6,172.4) scale(0.9,1)" x="0" y="3.9" font-size="10.8" font-weight="bold" text-anchor="middle">6</text><circle cx="210.5" cy="232.3" r="6.8" fill="none" stroke="#505050" stroke-width="0.65"/><text transform="translate(210.5,232.3) scale(0.9,1)" x="0" y="3.9" font-size="10.8" font-weight="bold" text-anchor="middle">7</text><circle cx="245.4" cy="232.3" r="6.8" fill="none" stroke="#505050" stroke-width="0.65"/><text transform="translate(245.4,232.3) scale(0.9,1)" x="0" y="3.9" font-size="10.8" font-weight="bold" text-anchor="middle">7</text><circle cx="280.5" cy="232.3" r="6.8" fill="none" stroke="#505050" stroke-width="0.65"/><text transform="translate(280.5,232.3) scale(0.9,1)" x="0" y="3.9" font-size="10.8" font-weight="bold" text-anchor="middle">7</text><circle cx="335.5" cy="232.3" r="6.8" fill="none" stroke="#505050" stroke-width="0.65"/><text transform="translate(335.5,232.3) scale(0.9,1)" x="0" y="3.9" font-size="10.8" font-weight="bold" text-anchor="middle">7</text><circle cx="370" cy="232.3" r="6.8" fill="none" stroke="#505050" stroke-width="0.65"/><text transform="translate(370,232.3) scale(0.9,1)" x="0" y="3.9" font-size="10.8" font-weight="bold" text-anchor="middle">7</text><circle cx="405.5" cy="232.3" r="6.8" fill="none" stroke="#505050" stroke-width="0.65"/><text transform="translate(405.5,232.3) scale(0.9,1)" x="0" y="3.9" font-size="10.8" font-weight="bold" text-anchor="middle">7</text><circle cx="468" cy="172.4" r="6.8" fill="none" stroke="#505050" stroke-width="0.65"/><text transform="translate(468,172.4) scale(0.9,1)" x="0" y="3.9" font-size="10.8" font-weight="bold" text-anchor="middle">8</text><circle cx="524.7" cy="159.6" r="6.8" fill="none" stroke="#505050" stroke-width="0.65"/><text transform="translate(524.7,159.6) scale(0.9,1)" x="0" y="3.9" font-size="10.8" font-weight="bold" text-anchor="middle">9</text><circle cx="468" cy="232.5" r="6.8" fill="none" stroke="#505050" stroke-width="0.65"/><text transform="translate(468,232.5) scale(0.9,1)" x="0" y="3.9" font-size="10.8" font-weight="bold" text-anchor="middle">10</text><circle cx="507.5" cy="235.5" r="6.8" fill="none" stroke="#505050" stroke-width="0.65"/><text transform="translate(507.5,235.5) scale(0.9,1)" x="0" y="3.9" font-size="10.8" font-weight="bold" text-anchor="middle">11</text><circle cx="534" cy="215.5" r="6.8" fill="#fff" stroke="#505050" stroke-width="0.65"/><text transform="translate(534,215.5) scale(0.9,1)" x="0" y="3.9" font-size="10.8" font-weight="bold" text-anchor="middle">12</text><circle cx="624.3" cy="170.7" r="6.8" fill="none" stroke="#505050" stroke-width="0.65"/><text transform="translate(624.3,170.7) scale(0.9,1)" x="0" y="3.9" font-size="10.8" font-weight="bold" text-anchor="middle">13</text><circle cx="624.3" cy="225.2" r="6.8" fill="none" stroke="#505050" stroke-width="0.65"/><text transform="translate(624.3,225.2) scale(0.9,1)" x="0" y="3.9" font-size="10.8" font-weight="bold" text-anchor="middle">13</text><circle cx="705" cy="181.5" r="6.8" fill="none" stroke="#505050" stroke-width="0.65"/><text transform="translate(705,181.5) scale(0.9,1)" x="0" y="3.9" font-size="10.8" font-weight="bold" text-anchor="middle">14</text><circle cx="722.2" cy="225.8" r="6.8" fill="#fff" stroke="#505050" stroke-width="0.65"/><text transform="translate(722.2,225.8) scale(0.9,1)" x="0" y="3.9" font-size="10.8" font-weight="bold" text-anchor="middle">16</text><circle cx="705" cy="133" r="7" fill="#fff" stroke="#505050" stroke-width="0.65"/><text transform="translate(705,133) scale(0.9,1)" x="0" y="3.9" font-size="10.8" font-weight="bold" text-anchor="middle">15</text><circle cx="721.3" cy="262" r="7" fill="#fff" stroke="#505050" stroke-width="0.65"/><text transform="translate(721.3,262) scale(0.9,1)" x="0" y="3.9" font-size="10.8" font-weight="bold" text-anchor="middle">15</text></g><g stroke="#333" stroke-width="0.5"><line x1="703" y1="140" x2="675.5" y2="173"/><line x1="707" y1="140" x2="716.5" y2="157"/><line x1="719" y1="255" x2="673.5" y2="226"/><line x1="722" y1="255" x2="722" y2="239"/></g><circle cx="675.5" cy="173" r="0.7" fill="#111"/><circle cx="716.5" cy="157" r="0.7" fill="#111"/><circle cx="673.5" cy="226" r="0.7" fill="#111"/><circle cx="722" cy="239" r="0.7" fill="#111"/><polyline points="95,145.8 111.5,124.4 124.7,124.4" fill="none" stroke="#444" stroke-width="0.5"/><circle cx="95" cy="145.8" r="1.1" fill="#000"/><line x1="62" y1="299.4" x2="188.4" y2="299.4" stroke="#555" stroke-width="0.8"/><polygon points="894.2,44.9 926.96,90.94 928.7,89.6" fill="#f2f2f2" stroke="#808080" stroke-width="0.35"/><polygon points="894.2,44.9 930.44,88.26 928.7,89.6" fill="#555" stroke="#4a4a4a" stroke-width="0.4"/><polygon points="931.8,65.5 926.52,89.32 928.7,89.6" fill="#f2f2f2" stroke="#808080" stroke-width="0.35"/><polygon points="931.8,65.5 930.88,89.88 928.7,89.6" fill="#555" stroke="#4a4a4a" stroke-width="0.4"/><polygon points="954.6,69.7 927.36,87.86 928.7,89.6" fill="#f2f2f2" stroke="#808080" stroke-width="0.35"/><polygon points="954.6,69.7 930.04,91.34 928.7,89.6" fill="#555" stroke="#4a4a4a" stroke-width="0.4"/><polygon points="904.4,86.3 928.4,91.78 928.7,89.6" fill="#f2f2f2" stroke="#808080" stroke-width="0.35"/><polygon points="904.4,86.3 929,87.42 928.7,89.6" fill="#555" stroke="#4a4a4a" stroke-width="0.4"/><polygon points="953.2,92.7 928.98,87.42 928.7,89.6" fill="#f2f2f2" stroke="#808080" stroke-width="0.35"/><polygon points="953.2,92.7 928.42,91.78 928.7,89.6" fill="#555" stroke="#4a4a4a" stroke-width="0.4"/><polygon points="903.2,109.5 930.05,91.33 928.7,89.6" fill="#f2f2f2" stroke="#808080" stroke-width="0.35"/><polygon points="903.2,109.5 927.35,87.87 928.7,89.6" fill="#555" stroke="#4a4a4a" stroke-width="0.4"/><polygon points="925.7,113.8 930.88,89.87 928.7,89.6" fill="#f2f2f2" stroke="#808080" stroke-width="0.35"/><polygon points="925.7,113.8 926.52,89.33 928.7,89.6" fill="#555" stroke="#4a4a4a" stroke-width="0.4"/><polygon points="948.9,115.2 930.43,88.24 928.7,89.6" fill="#f2f2f2" stroke="#808080" stroke-width="0.35"/><polygon points="948.9,115.2 926.97,90.96 928.7,89.6" fill="#555" stroke="#4a4a4a" stroke-width="0.4"/>
</svg>
<div class="abs" style="left:911px;top:26.5px;font-size:24px;">N</div>
<div class="abs u" style="left:386.5px;top:84.2px;font-size:13.25px;">Схема генплана (варіант №1)</div>
<div class="abs" style="left:128px;top:118px;font-size:12px;transform:scaleX(0.81);transform-origin:left top;">межі ділянки</div>
<div class="abs" style="left:261px;top:123.8px;font-size:9.85px;transform:scaleX(0.983);transform-origin:left top;">База відпочинку "Северянин"</div>
<div class="abs" style="left:266.3px;top:272px;font-size:9.97px;transform:scaleX(0.953);transform-origin:left top;">База відпочинку "Ентузіаст"</div>
<div class="abs" style="left:775.7px;top:220.5px;font-size:10.3px;">пляж</div>
<div class="abs" style="left:876.5px;top:220.3px;font-size:9.7px;">Азовське море</div>
<div class="abs" style="left:61.3px;top:302px;font-size:16px;">0</div>
<div class="abs" style="left:80.5px;top:302px;font-size:16px;">10</div>
<div class="abs" style="left:103.8px;top:302px;font-size:16px;">20</div>
<div class="abs" style="left:127.8px;top:302px;font-size:16px;">30</div>
<div class="abs" style="left:151.5px;top:302px;font-size:16px;">40</div>
<div class="abs" style="left:175.3px;top:302px;font-size:16px;">50</div>
<div class="abs u" style="left:129px;top:337.4px;font-size:13.25px;">Експлікація до генплану:</div>
<div class="abs u" style="left:822.4px;top:337.9px;font-size:13px;">Примітки:</div>
<div class="abs" style="left:760px;top:351.5px;font-size:13px;">1. Розрізи дивись аркуш № 3а.</div>
<div class="abs li" style="top:360px;">1 - адміністративний корпус + кухня (2 поверхи)</div>
<div class="abs li" style="top:374.95px;">2 - корпус персонала, медичних та побутових послуг (2 поверхи)</div>
<div class="abs li" style="top:389.9px;">3 - їдальня (2 поверхи)</div>
<div class="abs li" style="top:404.85px;">4 - технічна зона №1 (паркування службових машин, розташування баків для сміття, вигребна яма, баки з технічною водою)</div>
<div class="abs li" style="top:419.8px;">5 - технічна зона №2 (завантаження продуктів, розташування баків для відходів їдальні, баки з питною водою)</div>
<div class="abs li" style="top:434.75px;">6 - одноповерхова блокована забудова (тип 1)</div>
<div class="abs li" style="top:449.7px;">7- &nbsp;одноповерхова блокована забудова (тип 2)</div>
<div class="abs li" style="top:464.65px;">8 - майданчик з спортивними тренажерами</div>
<div class="abs li" style="top:479.6px;">9 - ігровий спортивний майданчик</div>
<div class="abs li" style="top:494.55px;">10 - ігровий дитячий майданчик</div>
<div class="abs li" style="top:509.5px;">11 - клуб розваг та відпочинку (2 поверхи)</div>
<div class="abs li" style="top:524.45px;">12 - зона культмасових заходів</div>
<div class="abs li" style="top:539.4px;">13 - двоповерховий VIP будинок</div>
<div class="abs li" style="top:554.35px;">14 - кафе з відкритою площадкою та торгівельною точкою (2 поверхи)</div>
<div class="abs li" style="top:569.3px;">15 - альтанки</div>
<div class="abs li" style="top:584.25px;">16 - набережна</div>

<div id="foot"></div>
<div style="position:absolute;left:647px;top:656px;width:1px;height:48px;background:#4a5a5a"></div>
<div style="position:absolute;left:697px;top:656px;width:1px;height:48px;background:#4a5a5a"></div>
<div class="abs ft" style="left:58.6px;top:672px;font-size:16.4px;">Схема генплана ,експлікація до генплану(варіант №1)</div>
<div class="abs ft" style="left:665.5px;top:668.5px;font-size:24.4px;">3</div>
<div class="abs ft" style="left:721.8px;top:664.2px;font-size:16.6px;">База відпочинку</div>
<div class="abs ft" style="left:722.5px;top:682.5px;font-size:16.4px;">у СМТ Кирилівка</div>
<div id="logo"></div>
<svg width="1000" height="705" style="position:absolute;left:0;top:0">
<rect x="956" y="660.3" width="16.5" height="11.8" rx="1" fill="#6cb33f"/>
<path d="M962 672 l2 3 l2 -3z" fill="#6cb33f"/>
<rect x="962" y="663.6" width="24" height="12.8" rx="1" fill="#2a9ad8" fill-opacity="0.9"/>
<ellipse cx="985.3" cy="667.2" rx="9.5" ry="6.2" fill="#d8204a" fill-opacity="0.9"/>
<path d="M988 672 l5 3.5 l-1.5 -4.5z" fill="#d8204a"/>
<rect x="962" y="663.6" width="10.5" height="8.5" fill="#1f8a3e"/>
<path d="M976 663.6 h10 v10.5 h-8 a9.5 6.2 0 0 1 -2 -10.5z" fill="#7a1a70" fill-opacity="0.9"/>
<text x="882.3" y="688.6" font-family="Liberation Sans" font-weight="bold" font-size="17" fill="#1e9ad8" stroke="#1e9ad8" stroke-width="0.5" textLength="26" lengthAdjust="spacingAndGlyphs">укр</text><text x="908.6" y="688.6" font-family="Liberation Sans" font-weight="bold" font-size="17" fill="#2b0f50" stroke="#2b0f50" stroke-width="0.5" textLength="74.5" lengthAdjust="spacingAndGlyphs">телеком</text>
</svg>
</body></html>
